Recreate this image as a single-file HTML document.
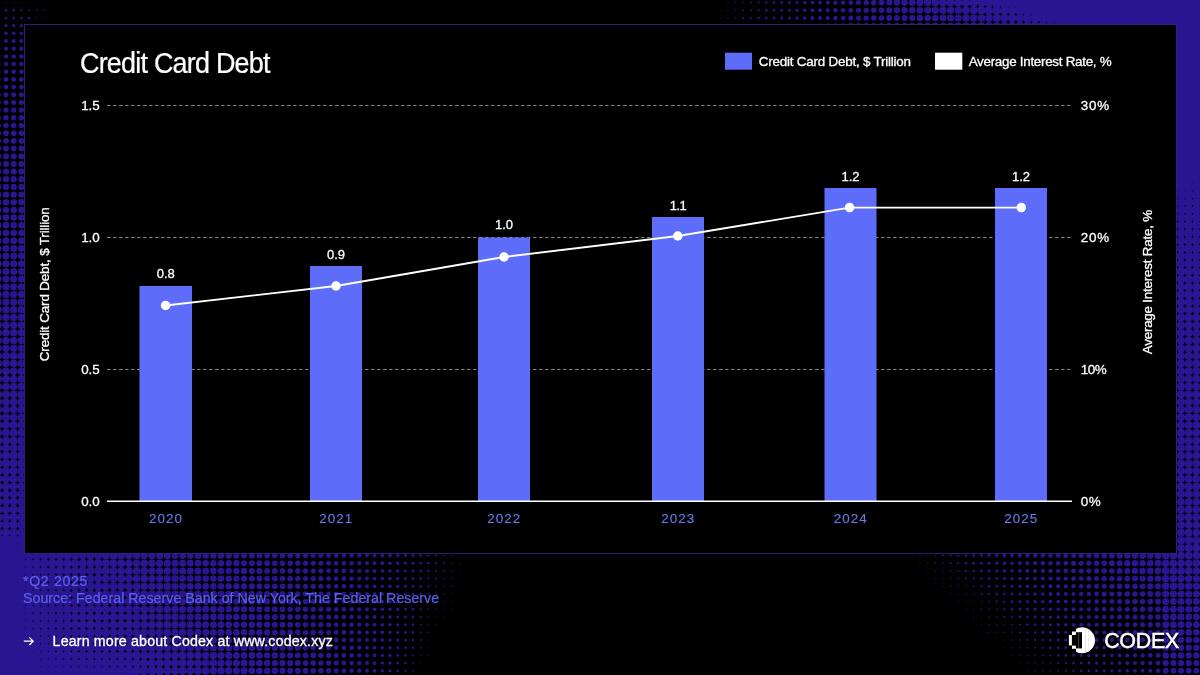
<!DOCTYPE html>
<html lang="en"><head><meta charset="utf-8"><title>Credit Card Debt</title>
<style>
html,body{margin:0;padding:0;background:#000;}
body{width:1200px;height:675px;position:relative;overflow:hidden;font-family:"Liberation Sans",sans-serif;color:#fff;}
svg.bg{filter:blur(0.7px);}
svg{position:absolute;left:0;top:0;font-family:"Liberation Sans",sans-serif;}
svg text{stroke-linejoin:round;white-space:pre;}
.panel{position:absolute;left:23.5px;top:23.5px;width:1151px;height:528.5px;background:#000;border:1px solid #2b2278;}
</style></head><body>
<svg class="bg" width="1200" height="675" viewBox="0 0 1200 675"><g fill="#2a1692"><circle cx="727.9" cy="-5.1" r="0.4"/><circle cx="735.6" cy="-5.1" r="0.6"/><circle cx="743.3" cy="-5.1" r="0.8"/><circle cx="751.0" cy="-5.1" r="0.9"/><circle cx="758.6" cy="-5.1" r="1.0"/><circle cx="766.3" cy="-5.1" r="1.1"/><circle cx="774.0" cy="-5.1" r="1.2"/><circle cx="781.7" cy="-5.1" r="1.3"/><circle cx="789.4" cy="-5.1" r="1.4"/><circle cx="797.0" cy="-5.1" r="1.5"/><circle cx="804.7" cy="-5.1" r="1.6"/><circle cx="812.4" cy="-5.1" r="1.7"/><circle cx="820.1" cy="-5.1" r="1.9"/><circle cx="827.8" cy="-5.1" r="2.0"/><circle cx="835.4" cy="-5.1" r="2.1"/><circle cx="843.1" cy="-5.1" r="2.2"/><circle cx="850.8" cy="-5.1" r="2.3"/><circle cx="858.5" cy="-5.1" r="2.5"/><circle cx="866.2" cy="-5.1" r="2.7"/><circle cx="873.8" cy="-5.1" r="2.8"/><circle cx="881.5" cy="-5.1" r="3.0"/><circle cx="889.2" cy="-5.1" r="3.1"/><circle cx="896.9" cy="-5.1" r="3.3"/><circle cx="904.6" cy="-5.1" r="3.4"/><circle cx="912.2" cy="-5.1" r="3.6"/><circle cx="919.9" cy="-5.1" r="3.7"/><circle cx="927.6" cy="-5.1" r="3.8"/><circle cx="935.3" cy="-5.1" r="4.0"/><circle cx="943.0" cy="-5.1" r="4.2"/><circle cx="950.6" cy="-5.1" r="4.4"/><circle cx="958.3" cy="-5.1" r="4.6"/><circle cx="966.0" cy="-5.1" r="4.7"/><circle cx="973.7" cy="-5.1" r="5.0"/><circle cx="981.4" cy="-5.1" r="5.5"/><circle cx="989.0" cy="-5.1" r="5.5"/><circle cx="996.7" cy="-5.1" r="5.5"/><circle cx="1004.4" cy="-5.1" r="5.5"/><circle cx="1012.1" cy="-5.1" r="5.5"/><circle cx="1019.8" cy="-5.1" r="5.5"/><circle cx="1027.4" cy="-5.1" r="5.5"/><circle cx="1035.1" cy="-5.1" r="5.5"/><circle cx="1042.8" cy="-5.1" r="5.5"/><circle cx="1050.5" cy="-5.1" r="5.5"/><circle cx="1058.2" cy="-5.1" r="5.5"/><circle cx="1065.8" cy="-5.1" r="5.5"/><circle cx="1073.5" cy="-5.1" r="5.5"/><circle cx="1081.2" cy="-5.1" r="5.5"/><circle cx="1088.9" cy="-5.1" r="5.5"/><circle cx="1096.6" cy="-5.1" r="5.5"/><circle cx="1104.2" cy="-5.1" r="5.5"/><circle cx="1111.9" cy="-5.1" r="5.5"/><circle cx="1119.6" cy="-5.1" r="5.5"/><circle cx="1127.3" cy="-5.1" r="5.5"/><circle cx="1135.0" cy="-5.1" r="5.5"/><circle cx="1142.6" cy="-5.1" r="5.5"/><circle cx="1150.3" cy="-5.1" r="5.5"/><circle cx="1158.0" cy="-5.1" r="5.5"/><circle cx="1165.7" cy="-5.1" r="5.5"/><circle cx="1173.4" cy="-5.1" r="5.5"/><circle cx="1181.0" cy="-5.1" r="5.5"/><circle cx="1188.7" cy="-5.1" r="5.5"/><circle cx="1196.4" cy="-5.1" r="5.5"/><circle cx="1204.1" cy="-5.1" r="5.5"/><circle cx="1211.8" cy="-5.1" r="5.5"/><circle cx="-1.7" cy="2.6" r="0.7"/><circle cx="6.0" cy="2.6" r="0.7"/><circle cx="13.7" cy="2.6" r="0.6"/><circle cx="21.4" cy="2.6" r="0.5"/><circle cx="29.0" cy="2.6" r="0.5"/><circle cx="727.9" cy="2.6" r="0.5"/><circle cx="735.6" cy="2.6" r="0.7"/><circle cx="743.3" cy="2.6" r="0.8"/><circle cx="751.0" cy="2.6" r="1.0"/><circle cx="758.6" cy="2.6" r="1.1"/><circle cx="766.3" cy="2.6" r="1.2"/><circle cx="774.0" cy="2.6" r="1.3"/><circle cx="781.7" cy="2.6" r="1.4"/><circle cx="789.4" cy="2.6" r="1.4"/><circle cx="797.0" cy="2.6" r="1.5"/><circle cx="804.7" cy="2.6" r="1.7"/><circle cx="812.4" cy="2.6" r="1.8"/><circle cx="820.1" cy="2.6" r="1.9"/><circle cx="827.8" cy="2.6" r="2.0"/><circle cx="835.4" cy="2.6" r="2.1"/><circle cx="843.1" cy="2.6" r="2.2"/><circle cx="850.8" cy="2.6" r="2.4"/><circle cx="858.5" cy="2.6" r="2.5"/><circle cx="866.2" cy="2.6" r="2.6"/><circle cx="873.8" cy="2.6" r="2.8"/><circle cx="881.5" cy="2.6" r="2.9"/><circle cx="889.2" cy="2.6" r="3.0"/><circle cx="896.9" cy="2.6" r="3.2"/><circle cx="904.6" cy="2.6" r="3.3"/><circle cx="912.2" cy="2.6" r="3.4"/><circle cx="919.9" cy="2.6" r="3.6"/><circle cx="927.6" cy="2.6" r="3.7"/><circle cx="935.3" cy="2.6" r="3.8"/><circle cx="943.0" cy="2.6" r="3.9"/><circle cx="950.6" cy="2.6" r="4.0"/><circle cx="958.3" cy="2.6" r="4.1"/><circle cx="966.0" cy="2.6" r="4.3"/><circle cx="973.7" cy="2.6" r="4.4"/><circle cx="981.4" cy="2.6" r="4.6"/><circle cx="989.0" cy="2.6" r="4.7"/><circle cx="996.7" cy="2.6" r="5.0"/><circle cx="1004.4" cy="2.6" r="5.5"/><circle cx="1012.1" cy="2.6" r="5.5"/><circle cx="1019.8" cy="2.6" r="5.5"/><circle cx="1027.4" cy="2.6" r="5.5"/><circle cx="1035.1" cy="2.6" r="5.5"/><circle cx="1042.8" cy="2.6" r="5.5"/><circle cx="1050.5" cy="2.6" r="5.5"/><circle cx="1058.2" cy="2.6" r="5.5"/><circle cx="1065.8" cy="2.6" r="5.5"/><circle cx="1073.5" cy="2.6" r="5.5"/><circle cx="1081.2" cy="2.6" r="5.5"/><circle cx="1088.9" cy="2.6" r="5.5"/><circle cx="1096.6" cy="2.6" r="5.5"/><circle cx="1104.2" cy="2.6" r="5.5"/><circle cx="1111.9" cy="2.6" r="5.5"/><circle cx="1119.6" cy="2.6" r="5.5"/><circle cx="1127.3" cy="2.6" r="5.5"/><circle cx="1135.0" cy="2.6" r="5.5"/><circle cx="1142.6" cy="2.6" r="5.5"/><circle cx="1150.3" cy="2.6" r="5.5"/><circle cx="1158.0" cy="2.6" r="5.5"/><circle cx="1165.7" cy="2.6" r="5.5"/><circle cx="1173.4" cy="2.6" r="5.5"/><circle cx="1181.0" cy="2.6" r="5.5"/><circle cx="1188.7" cy="2.6" r="5.5"/><circle cx="1196.4" cy="2.6" r="5.5"/><circle cx="1204.1" cy="2.6" r="5.5"/><circle cx="1211.8" cy="2.6" r="5.5"/><circle cx="-1.7" cy="10.3" r="1.4"/><circle cx="6.0" cy="10.3" r="1.3"/><circle cx="13.7" cy="10.3" r="1.2"/><circle cx="21.4" cy="10.3" r="1.1"/><circle cx="29.0" cy="10.3" r="0.9"/><circle cx="36.7" cy="10.3" r="0.8"/><circle cx="44.4" cy="10.3" r="0.6"/><circle cx="720.2" cy="10.3" r="0.4"/><circle cx="727.9" cy="10.3" r="0.6"/><circle cx="735.6" cy="10.3" r="0.8"/><circle cx="743.3" cy="10.3" r="0.9"/><circle cx="751.0" cy="10.3" r="1.0"/><circle cx="758.6" cy="10.3" r="1.1"/><circle cx="766.3" cy="10.3" r="1.2"/><circle cx="774.0" cy="10.3" r="1.3"/><circle cx="781.7" cy="10.3" r="1.4"/><circle cx="789.4" cy="10.3" r="1.5"/><circle cx="797.0" cy="10.3" r="1.6"/><circle cx="804.7" cy="10.3" r="1.7"/><circle cx="812.4" cy="10.3" r="1.9"/><circle cx="820.1" cy="10.3" r="2.0"/><circle cx="827.8" cy="10.3" r="2.1"/><circle cx="835.4" cy="10.3" r="2.2"/><circle cx="843.1" cy="10.3" r="2.3"/><circle cx="850.8" cy="10.3" r="2.4"/><circle cx="858.5" cy="10.3" r="2.5"/><circle cx="866.2" cy="10.3" r="2.6"/><circle cx="873.8" cy="10.3" r="2.7"/><circle cx="881.5" cy="10.3" r="2.9"/><circle cx="889.2" cy="10.3" r="3.0"/><circle cx="896.9" cy="10.3" r="3.1"/><circle cx="904.6" cy="10.3" r="3.2"/><circle cx="912.2" cy="10.3" r="3.3"/><circle cx="919.9" cy="10.3" r="3.4"/><circle cx="927.6" cy="10.3" r="3.5"/><circle cx="935.3" cy="10.3" r="3.6"/><circle cx="943.0" cy="10.3" r="3.7"/><circle cx="950.6" cy="10.3" r="3.7"/><circle cx="958.3" cy="10.3" r="3.8"/><circle cx="966.0" cy="10.3" r="3.9"/><circle cx="973.7" cy="10.3" r="4.0"/><circle cx="981.4" cy="10.3" r="4.1"/><circle cx="989.0" cy="10.3" r="4.3"/><circle cx="996.7" cy="10.3" r="4.4"/><circle cx="1004.4" cy="10.3" r="4.6"/><circle cx="1012.1" cy="10.3" r="4.7"/><circle cx="1019.8" cy="10.3" r="5.0"/><circle cx="1027.4" cy="10.3" r="5.5"/><circle cx="1035.1" cy="10.3" r="5.5"/><circle cx="1042.8" cy="10.3" r="5.5"/><circle cx="1050.5" cy="10.3" r="5.5"/><circle cx="1058.2" cy="10.3" r="5.5"/><circle cx="1065.8" cy="10.3" r="5.5"/><circle cx="1073.5" cy="10.3" r="5.5"/><circle cx="1081.2" cy="10.3" r="5.5"/><circle cx="1088.9" cy="10.3" r="5.5"/><circle cx="1096.6" cy="10.3" r="5.5"/><circle cx="1104.2" cy="10.3" r="5.5"/><circle cx="1111.9" cy="10.3" r="5.5"/><circle cx="1119.6" cy="10.3" r="5.5"/><circle cx="1127.3" cy="10.3" r="5.5"/><circle cx="1135.0" cy="10.3" r="5.5"/><circle cx="1142.6" cy="10.3" r="5.5"/><circle cx="1150.3" cy="10.3" r="5.5"/><circle cx="1158.0" cy="10.3" r="5.5"/><circle cx="1165.7" cy="10.3" r="5.5"/><circle cx="1173.4" cy="10.3" r="5.5"/><circle cx="1181.0" cy="10.3" r="5.5"/><circle cx="1188.7" cy="10.3" r="5.5"/><circle cx="1196.4" cy="10.3" r="5.5"/><circle cx="1204.1" cy="10.3" r="5.5"/><circle cx="1211.8" cy="10.3" r="5.5"/><circle cx="-1.7" cy="18.0" r="1.4"/><circle cx="6.0" cy="18.0" r="1.3"/><circle cx="13.7" cy="18.0" r="1.3"/><circle cx="21.4" cy="18.0" r="1.3"/><circle cx="29.0" cy="18.0" r="1.3"/><circle cx="36.7" cy="18.0" r="0.8"/><circle cx="44.4" cy="18.0" r="0.6"/><circle cx="720.2" cy="18.0" r="0.5"/><circle cx="727.9" cy="18.0" r="0.7"/><circle cx="735.6" cy="18.0" r="0.8"/><circle cx="743.3" cy="18.0" r="1.0"/><circle cx="751.0" cy="18.0" r="1.1"/><circle cx="758.6" cy="18.0" r="1.2"/><circle cx="766.3" cy="18.0" r="1.3"/><circle cx="774.0" cy="18.0" r="1.4"/><circle cx="781.7" cy="18.0" r="1.4"/><circle cx="789.4" cy="18.0" r="1.5"/><circle cx="797.0" cy="18.0" r="1.7"/><circle cx="804.7" cy="18.0" r="1.8"/><circle cx="812.4" cy="18.0" r="1.9"/><circle cx="820.1" cy="18.0" r="2.0"/><circle cx="827.8" cy="18.0" r="2.1"/><circle cx="835.4" cy="18.0" r="2.2"/><circle cx="843.1" cy="18.0" r="2.3"/><circle cx="850.8" cy="18.0" r="2.5"/><circle cx="858.5" cy="18.0" r="2.5"/><circle cx="866.2" cy="18.0" r="2.6"/><circle cx="873.8" cy="18.0" r="2.7"/><circle cx="881.5" cy="18.0" r="2.8"/><circle cx="889.2" cy="18.0" r="2.9"/><circle cx="896.9" cy="18.0" r="2.9"/><circle cx="904.6" cy="18.0" r="3.0"/><circle cx="912.2" cy="18.0" r="3.1"/><circle cx="919.9" cy="18.0" r="3.2"/><circle cx="927.6" cy="18.0" r="3.3"/><circle cx="935.3" cy="18.0" r="3.3"/><circle cx="943.0" cy="18.0" r="3.4"/><circle cx="950.6" cy="18.0" r="3.5"/><circle cx="958.3" cy="18.0" r="3.6"/><circle cx="966.0" cy="18.0" r="3.7"/><circle cx="973.7" cy="18.0" r="3.7"/><circle cx="981.4" cy="18.0" r="3.8"/><circle cx="989.0" cy="18.0" r="3.9"/><circle cx="996.7" cy="18.0" r="4.0"/><circle cx="1004.4" cy="18.0" r="4.1"/><circle cx="1012.1" cy="18.0" r="4.3"/><circle cx="1019.8" cy="18.0" r="4.4"/><circle cx="1027.4" cy="18.0" r="4.6"/><circle cx="1035.1" cy="18.0" r="4.7"/><circle cx="1042.8" cy="18.0" r="5.0"/><circle cx="1050.5" cy="18.0" r="5.5"/><circle cx="1058.2" cy="18.0" r="5.5"/><circle cx="1065.8" cy="18.0" r="5.5"/><circle cx="1073.5" cy="18.0" r="5.5"/><circle cx="1081.2" cy="18.0" r="5.5"/><circle cx="1088.9" cy="18.0" r="5.5"/><circle cx="1096.6" cy="18.0" r="5.5"/><circle cx="1104.2" cy="18.0" r="5.5"/><circle cx="1111.9" cy="18.0" r="5.5"/><circle cx="1119.6" cy="18.0" r="5.5"/><circle cx="1127.3" cy="18.0" r="5.5"/><circle cx="1135.0" cy="18.0" r="5.5"/><circle cx="1142.6" cy="18.0" r="5.5"/><circle cx="1150.3" cy="18.0" r="5.5"/><circle cx="1158.0" cy="18.0" r="5.5"/><circle cx="1165.7" cy="18.0" r="5.5"/><circle cx="1173.4" cy="18.0" r="5.5"/><circle cx="1181.0" cy="18.0" r="5.5"/><circle cx="1188.7" cy="18.0" r="5.5"/><circle cx="1196.4" cy="18.0" r="5.5"/><circle cx="1204.1" cy="18.0" r="5.5"/><circle cx="1211.8" cy="18.0" r="5.5"/><circle cx="-1.7" cy="25.6" r="1.6"/><circle cx="6.0" cy="25.6" r="1.6"/><circle cx="13.7" cy="25.6" r="1.6"/><circle cx="21.4" cy="25.6" r="1.6"/><circle cx="29.0" cy="25.6" r="1.6"/><circle cx="712.6" cy="25.6" r="0.4"/><circle cx="720.2" cy="25.6" r="0.6"/><circle cx="727.9" cy="25.6" r="0.8"/><circle cx="735.6" cy="25.6" r="0.9"/><circle cx="743.3" cy="25.6" r="1.0"/><circle cx="751.0" cy="25.6" r="1.1"/><circle cx="758.6" cy="25.6" r="1.2"/><circle cx="766.3" cy="25.6" r="1.3"/><circle cx="774.0" cy="25.6" r="1.4"/><circle cx="781.7" cy="25.6" r="1.5"/><circle cx="789.4" cy="25.6" r="1.6"/><circle cx="797.0" cy="25.6" r="1.7"/><circle cx="804.7" cy="25.6" r="1.9"/><circle cx="812.4" cy="25.6" r="2.0"/><circle cx="820.1" cy="25.6" r="2.1"/><circle cx="827.8" cy="25.6" r="2.2"/><circle cx="835.4" cy="25.6" r="2.3"/><circle cx="843.1" cy="25.6" r="2.4"/><circle cx="850.8" cy="25.6" r="2.5"/><circle cx="858.5" cy="25.6" r="2.6"/><circle cx="866.2" cy="25.6" r="2.6"/><circle cx="873.8" cy="25.6" r="2.7"/><circle cx="881.5" cy="25.6" r="2.7"/><circle cx="889.2" cy="25.6" r="2.8"/><circle cx="896.9" cy="25.6" r="2.8"/><circle cx="904.6" cy="25.6" r="2.9"/><circle cx="912.2" cy="25.6" r="2.9"/><circle cx="919.9" cy="25.6" r="3.0"/><circle cx="927.6" cy="25.6" r="3.0"/><circle cx="935.3" cy="25.6" r="3.1"/><circle cx="943.0" cy="25.6" r="3.1"/><circle cx="950.6" cy="25.6" r="3.2"/><circle cx="958.3" cy="25.6" r="3.3"/><circle cx="966.0" cy="25.6" r="3.4"/><circle cx="973.7" cy="25.6" r="3.5"/><circle cx="981.4" cy="25.6" r="3.6"/><circle cx="989.0" cy="25.6" r="3.7"/><circle cx="996.7" cy="25.6" r="3.7"/><circle cx="1004.4" cy="25.6" r="3.8"/><circle cx="1012.1" cy="25.6" r="3.9"/><circle cx="1019.8" cy="25.6" r="4.0"/><circle cx="1027.4" cy="25.6" r="4.1"/><circle cx="1035.1" cy="25.6" r="4.3"/><circle cx="1042.8" cy="25.6" r="4.4"/><circle cx="1050.5" cy="25.6" r="4.6"/><circle cx="1058.2" cy="25.6" r="4.7"/><circle cx="1065.8" cy="25.6" r="5.0"/><circle cx="1073.5" cy="25.6" r="5.5"/><circle cx="1081.2" cy="25.6" r="5.5"/><circle cx="1088.9" cy="25.6" r="5.5"/><circle cx="1096.6" cy="25.6" r="5.5"/><circle cx="1104.2" cy="25.6" r="5.5"/><circle cx="1111.9" cy="25.6" r="5.5"/><circle cx="1119.6" cy="25.6" r="5.5"/><circle cx="1127.3" cy="25.6" r="5.5"/><circle cx="1135.0" cy="25.6" r="5.5"/><circle cx="1142.6" cy="25.6" r="5.5"/><circle cx="1150.3" cy="25.6" r="5.5"/><circle cx="1158.0" cy="25.6" r="5.5"/><circle cx="1165.7" cy="25.6" r="5.5"/><circle cx="1173.4" cy="25.6" r="5.5"/><circle cx="1181.0" cy="25.6" r="5.5"/><circle cx="1188.7" cy="25.6" r="5.5"/><circle cx="1196.4" cy="25.6" r="5.5"/><circle cx="1204.1" cy="25.6" r="5.5"/><circle cx="1211.8" cy="25.6" r="5.5"/><circle cx="-1.7" cy="33.3" r="1.8"/><circle cx="6.0" cy="33.3" r="1.8"/><circle cx="13.7" cy="33.3" r="1.8"/><circle cx="21.4" cy="33.3" r="1.8"/><circle cx="29.0" cy="33.3" r="1.8"/><circle cx="1173.4" cy="33.3" r="5.5"/><circle cx="1181.0" cy="33.3" r="5.5"/><circle cx="1188.7" cy="33.3" r="5.5"/><circle cx="1196.4" cy="33.3" r="5.5"/><circle cx="1204.1" cy="33.3" r="5.5"/><circle cx="1211.8" cy="33.3" r="5.5"/><circle cx="-1.7" cy="41.0" r="2.0"/><circle cx="6.0" cy="41.0" r="2.0"/><circle cx="13.7" cy="41.0" r="2.0"/><circle cx="21.4" cy="41.0" r="2.0"/><circle cx="29.0" cy="41.0" r="2.0"/><circle cx="1173.4" cy="41.0" r="5.5"/><circle cx="1181.0" cy="41.0" r="5.5"/><circle cx="1188.7" cy="41.0" r="5.5"/><circle cx="1196.4" cy="41.0" r="5.5"/><circle cx="1204.1" cy="41.0" r="5.5"/><circle cx="1211.8" cy="41.0" r="5.5"/><circle cx="-1.7" cy="48.7" r="2.1"/><circle cx="6.0" cy="48.7" r="2.1"/><circle cx="13.7" cy="48.7" r="2.1"/><circle cx="21.4" cy="48.7" r="2.1"/><circle cx="29.0" cy="48.7" r="2.1"/><circle cx="1173.4" cy="48.7" r="5.5"/><circle cx="1181.0" cy="48.7" r="5.5"/><circle cx="1188.7" cy="48.7" r="5.5"/><circle cx="1196.4" cy="48.7" r="5.5"/><circle cx="1204.1" cy="48.7" r="5.5"/><circle cx="1211.8" cy="48.7" r="5.5"/><circle cx="-1.7" cy="56.4" r="2.2"/><circle cx="6.0" cy="56.4" r="2.2"/><circle cx="13.7" cy="56.4" r="2.2"/><circle cx="21.4" cy="56.4" r="2.2"/><circle cx="29.0" cy="56.4" r="2.2"/><circle cx="1173.4" cy="56.4" r="5.5"/><circle cx="1181.0" cy="56.4" r="5.5"/><circle cx="1188.7" cy="56.4" r="5.5"/><circle cx="1196.4" cy="56.4" r="5.5"/><circle cx="1204.1" cy="56.4" r="5.5"/><circle cx="1211.8" cy="56.4" r="5.5"/><circle cx="-1.7" cy="64.0" r="2.2"/><circle cx="6.0" cy="64.0" r="2.2"/><circle cx="13.7" cy="64.0" r="2.2"/><circle cx="21.4" cy="64.0" r="2.2"/><circle cx="29.0" cy="64.0" r="2.2"/><circle cx="1173.4" cy="64.0" r="5.5"/><circle cx="1181.0" cy="64.0" r="5.5"/><circle cx="1188.7" cy="64.0" r="5.5"/><circle cx="1196.4" cy="64.0" r="5.5"/><circle cx="1204.1" cy="64.0" r="5.5"/><circle cx="1211.8" cy="64.0" r="5.5"/><circle cx="-1.7" cy="71.7" r="2.3"/><circle cx="6.0" cy="71.7" r="2.3"/><circle cx="13.7" cy="71.7" r="2.3"/><circle cx="21.4" cy="71.7" r="2.3"/><circle cx="29.0" cy="71.7" r="2.3"/><circle cx="1173.4" cy="71.7" r="5.5"/><circle cx="1181.0" cy="71.7" r="5.5"/><circle cx="1188.7" cy="71.7" r="5.5"/><circle cx="1196.4" cy="71.7" r="5.5"/><circle cx="1204.1" cy="71.7" r="5.5"/><circle cx="1211.8" cy="71.7" r="5.5"/><circle cx="-1.7" cy="79.4" r="2.4"/><circle cx="6.0" cy="79.4" r="2.4"/><circle cx="13.7" cy="79.4" r="2.4"/><circle cx="21.4" cy="79.4" r="2.4"/><circle cx="29.0" cy="79.4" r="2.4"/><circle cx="1173.4" cy="79.4" r="5.5"/><circle cx="1181.0" cy="79.4" r="5.5"/><circle cx="1188.7" cy="79.4" r="5.5"/><circle cx="1196.4" cy="79.4" r="5.5"/><circle cx="1204.1" cy="79.4" r="5.5"/><circle cx="1211.8" cy="79.4" r="5.5"/><circle cx="-1.7" cy="87.1" r="2.4"/><circle cx="6.0" cy="87.1" r="2.4"/><circle cx="13.7" cy="87.1" r="2.4"/><circle cx="21.4" cy="87.1" r="2.4"/><circle cx="29.0" cy="87.1" r="2.4"/><circle cx="1173.4" cy="87.1" r="5.5"/><circle cx="1181.0" cy="87.1" r="5.5"/><circle cx="1188.7" cy="87.1" r="5.5"/><circle cx="1196.4" cy="87.1" r="5.5"/><circle cx="1204.1" cy="87.1" r="5.5"/><circle cx="1211.8" cy="87.1" r="5.5"/><circle cx="-1.7" cy="94.8" r="2.5"/><circle cx="6.0" cy="94.8" r="2.5"/><circle cx="13.7" cy="94.8" r="2.5"/><circle cx="21.4" cy="94.8" r="2.5"/><circle cx="29.0" cy="94.8" r="2.5"/><circle cx="1173.4" cy="94.8" r="5.5"/><circle cx="1181.0" cy="94.8" r="5.5"/><circle cx="1188.7" cy="94.8" r="5.5"/><circle cx="1196.4" cy="94.8" r="5.5"/><circle cx="1204.1" cy="94.8" r="5.5"/><circle cx="1211.8" cy="94.8" r="5.5"/><circle cx="-1.7" cy="102.4" r="2.5"/><circle cx="6.0" cy="102.4" r="2.5"/><circle cx="13.7" cy="102.4" r="2.5"/><circle cx="21.4" cy="102.4" r="2.5"/><circle cx="29.0" cy="102.4" r="2.5"/><circle cx="1173.4" cy="102.4" r="5.5"/><circle cx="1181.0" cy="102.4" r="5.5"/><circle cx="1188.7" cy="102.4" r="5.5"/><circle cx="1196.4" cy="102.4" r="5.5"/><circle cx="1204.1" cy="102.4" r="5.5"/><circle cx="1211.8" cy="102.4" r="5.5"/><circle cx="-1.7" cy="110.1" r="2.6"/><circle cx="6.0" cy="110.1" r="2.6"/><circle cx="13.7" cy="110.1" r="2.6"/><circle cx="21.4" cy="110.1" r="2.6"/><circle cx="29.0" cy="110.1" r="2.6"/><circle cx="1173.4" cy="110.1" r="5.5"/><circle cx="1181.0" cy="110.1" r="5.5"/><circle cx="1188.7" cy="110.1" r="5.5"/><circle cx="1196.4" cy="110.1" r="5.5"/><circle cx="1204.1" cy="110.1" r="5.5"/><circle cx="1211.8" cy="110.1" r="5.5"/><circle cx="-1.7" cy="117.8" r="2.7"/><circle cx="6.0" cy="117.8" r="2.7"/><circle cx="13.7" cy="117.8" r="2.7"/><circle cx="21.4" cy="117.8" r="2.7"/><circle cx="29.0" cy="117.8" r="2.7"/><circle cx="1173.4" cy="117.8" r="5.5"/><circle cx="1181.0" cy="117.8" r="5.5"/><circle cx="1188.7" cy="117.8" r="5.5"/><circle cx="1196.4" cy="117.8" r="5.5"/><circle cx="1204.1" cy="117.8" r="5.5"/><circle cx="1211.8" cy="117.8" r="5.5"/><circle cx="-1.7" cy="125.5" r="2.7"/><circle cx="6.0" cy="125.5" r="2.7"/><circle cx="13.7" cy="125.5" r="2.7"/><circle cx="21.4" cy="125.5" r="2.7"/><circle cx="29.0" cy="125.5" r="2.7"/><circle cx="1173.4" cy="125.5" r="5.5"/><circle cx="1181.0" cy="125.5" r="5.5"/><circle cx="1188.7" cy="125.5" r="5.5"/><circle cx="1196.4" cy="125.5" r="5.5"/><circle cx="1204.1" cy="125.5" r="5.5"/><circle cx="1211.8" cy="125.5" r="5.5"/><circle cx="-1.7" cy="133.2" r="2.8"/><circle cx="6.0" cy="133.2" r="2.8"/><circle cx="13.7" cy="133.2" r="2.8"/><circle cx="21.4" cy="133.2" r="2.8"/><circle cx="29.0" cy="133.2" r="2.8"/><circle cx="1173.4" cy="133.2" r="5.5"/><circle cx="1181.0" cy="133.2" r="5.5"/><circle cx="1188.7" cy="133.2" r="5.5"/><circle cx="1196.4" cy="133.2" r="5.5"/><circle cx="1204.1" cy="133.2" r="5.5"/><circle cx="1211.8" cy="133.2" r="5.5"/><circle cx="-1.7" cy="140.8" r="2.9"/><circle cx="6.0" cy="140.8" r="2.9"/><circle cx="13.7" cy="140.8" r="2.9"/><circle cx="21.4" cy="140.8" r="2.9"/><circle cx="29.0" cy="140.8" r="2.9"/><circle cx="1173.4" cy="140.8" r="5.5"/><circle cx="1181.0" cy="140.8" r="5.5"/><circle cx="1188.7" cy="140.8" r="5.5"/><circle cx="1196.4" cy="140.8" r="5.5"/><circle cx="1204.1" cy="140.8" r="5.5"/><circle cx="1211.8" cy="140.8" r="5.5"/><circle cx="-1.7" cy="148.5" r="2.9"/><circle cx="6.0" cy="148.5" r="2.9"/><circle cx="13.7" cy="148.5" r="2.9"/><circle cx="21.4" cy="148.5" r="2.9"/><circle cx="29.0" cy="148.5" r="2.9"/><circle cx="1173.4" cy="148.5" r="5.5"/><circle cx="1181.0" cy="148.5" r="5.5"/><circle cx="1188.7" cy="148.5" r="5.5"/><circle cx="1196.4" cy="148.5" r="5.5"/><circle cx="1204.1" cy="148.5" r="5.5"/><circle cx="1211.8" cy="148.5" r="5.5"/><circle cx="-1.7" cy="156.2" r="3.0"/><circle cx="6.0" cy="156.2" r="3.0"/><circle cx="13.7" cy="156.2" r="3.0"/><circle cx="21.4" cy="156.2" r="3.0"/><circle cx="29.0" cy="156.2" r="3.0"/><circle cx="1173.4" cy="156.2" r="5.5"/><circle cx="1181.0" cy="156.2" r="5.5"/><circle cx="1188.7" cy="156.2" r="5.5"/><circle cx="1196.4" cy="156.2" r="5.5"/><circle cx="1204.1" cy="156.2" r="5.5"/><circle cx="1211.8" cy="156.2" r="5.5"/><circle cx="-1.7" cy="163.9" r="3.0"/><circle cx="6.0" cy="163.9" r="3.0"/><circle cx="13.7" cy="163.9" r="3.0"/><circle cx="21.4" cy="163.9" r="3.0"/><circle cx="29.0" cy="163.9" r="3.0"/><circle cx="1173.4" cy="163.9" r="5.5"/><circle cx="1181.0" cy="163.9" r="5.5"/><circle cx="1188.7" cy="163.9" r="5.5"/><circle cx="1196.4" cy="163.9" r="5.5"/><circle cx="1204.1" cy="163.9" r="5.5"/><circle cx="1211.8" cy="163.9" r="5.5"/><circle cx="-1.7" cy="171.6" r="3.1"/><circle cx="6.0" cy="171.6" r="3.1"/><circle cx="13.7" cy="171.6" r="3.1"/><circle cx="21.4" cy="171.6" r="3.1"/><circle cx="29.0" cy="171.6" r="3.1"/><circle cx="1173.4" cy="171.6" r="5.5"/><circle cx="1181.0" cy="171.6" r="5.5"/><circle cx="1188.7" cy="171.6" r="5.5"/><circle cx="1196.4" cy="171.6" r="5.5"/><circle cx="1204.1" cy="171.6" r="5.5"/><circle cx="1211.8" cy="171.6" r="5.5"/><circle cx="-1.7" cy="179.2" r="3.1"/><circle cx="6.0" cy="179.2" r="3.1"/><circle cx="13.7" cy="179.2" r="3.1"/><circle cx="21.4" cy="179.2" r="3.1"/><circle cx="29.0" cy="179.2" r="3.1"/><circle cx="1173.4" cy="179.2" r="5.5"/><circle cx="1181.0" cy="179.2" r="5.5"/><circle cx="1188.7" cy="179.2" r="5.5"/><circle cx="1196.4" cy="179.2" r="5.5"/><circle cx="1204.1" cy="179.2" r="5.5"/><circle cx="1211.8" cy="179.2" r="5.5"/><circle cx="-1.7" cy="186.9" r="3.1"/><circle cx="6.0" cy="186.9" r="3.1"/><circle cx="13.7" cy="186.9" r="3.1"/><circle cx="21.4" cy="186.9" r="3.1"/><circle cx="29.0" cy="186.9" r="3.1"/><circle cx="1173.4" cy="186.9" r="5.2"/><circle cx="1181.0" cy="186.9" r="5.2"/><circle cx="1188.7" cy="186.9" r="5.2"/><circle cx="1196.4" cy="186.9" r="5.2"/><circle cx="1204.1" cy="186.9" r="5.2"/><circle cx="1211.8" cy="186.9" r="5.2"/><circle cx="-1.7" cy="194.6" r="3.2"/><circle cx="6.0" cy="194.6" r="3.2"/><circle cx="13.7" cy="194.6" r="3.2"/><circle cx="21.4" cy="194.6" r="3.2"/><circle cx="29.0" cy="194.6" r="3.2"/><circle cx="1173.4" cy="194.6" r="5.0"/><circle cx="1181.0" cy="194.6" r="5.0"/><circle cx="1188.7" cy="194.6" r="5.0"/><circle cx="1196.4" cy="194.6" r="5.0"/><circle cx="1204.1" cy="194.6" r="5.0"/><circle cx="1211.8" cy="194.6" r="5.0"/><circle cx="-1.7" cy="202.3" r="3.2"/><circle cx="6.0" cy="202.3" r="3.2"/><circle cx="13.7" cy="202.3" r="3.2"/><circle cx="21.4" cy="202.3" r="3.2"/><circle cx="29.0" cy="202.3" r="3.2"/><circle cx="1173.4" cy="202.3" r="4.9"/><circle cx="1181.0" cy="202.3" r="4.9"/><circle cx="1188.7" cy="202.3" r="4.9"/><circle cx="1196.4" cy="202.3" r="4.9"/><circle cx="1204.1" cy="202.3" r="4.9"/><circle cx="1211.8" cy="202.3" r="4.9"/><circle cx="-1.7" cy="210.0" r="3.2"/><circle cx="6.0" cy="210.0" r="3.2"/><circle cx="13.7" cy="210.0" r="3.2"/><circle cx="21.4" cy="210.0" r="3.2"/><circle cx="29.0" cy="210.0" r="3.2"/><circle cx="1173.4" cy="210.0" r="4.9"/><circle cx="1181.0" cy="210.0" r="4.9"/><circle cx="1188.7" cy="210.0" r="4.9"/><circle cx="1196.4" cy="210.0" r="4.9"/><circle cx="1204.1" cy="210.0" r="4.9"/><circle cx="1211.8" cy="210.0" r="4.9"/><circle cx="-1.7" cy="217.6" r="3.3"/><circle cx="6.0" cy="217.6" r="3.3"/><circle cx="13.7" cy="217.6" r="3.3"/><circle cx="21.4" cy="217.6" r="3.3"/><circle cx="29.0" cy="217.6" r="3.3"/><circle cx="1173.4" cy="217.6" r="4.8"/><circle cx="1181.0" cy="217.6" r="4.8"/><circle cx="1188.7" cy="217.6" r="4.8"/><circle cx="1196.4" cy="217.6" r="4.8"/><circle cx="1204.1" cy="217.6" r="4.8"/><circle cx="1211.8" cy="217.6" r="4.8"/><circle cx="-1.7" cy="225.3" r="3.3"/><circle cx="6.0" cy="225.3" r="3.3"/><circle cx="13.7" cy="225.3" r="3.3"/><circle cx="21.4" cy="225.3" r="3.3"/><circle cx="29.0" cy="225.3" r="3.3"/><circle cx="1173.4" cy="225.3" r="4.7"/><circle cx="1181.0" cy="225.3" r="4.7"/><circle cx="1188.7" cy="225.3" r="4.7"/><circle cx="1196.4" cy="225.3" r="4.7"/><circle cx="1204.1" cy="225.3" r="4.7"/><circle cx="1211.8" cy="225.3" r="4.7"/><circle cx="-1.7" cy="233.0" r="3.3"/><circle cx="6.0" cy="233.0" r="3.3"/><circle cx="13.7" cy="233.0" r="3.3"/><circle cx="21.4" cy="233.0" r="3.3"/><circle cx="29.0" cy="233.0" r="3.3"/><circle cx="1173.4" cy="233.0" r="4.7"/><circle cx="1181.0" cy="233.0" r="4.7"/><circle cx="1188.7" cy="233.0" r="4.7"/><circle cx="1196.4" cy="233.0" r="4.7"/><circle cx="1204.1" cy="233.0" r="4.7"/><circle cx="1211.8" cy="233.0" r="4.7"/><circle cx="-1.7" cy="240.7" r="3.4"/><circle cx="6.0" cy="240.7" r="3.4"/><circle cx="13.7" cy="240.7" r="3.4"/><circle cx="21.4" cy="240.7" r="3.4"/><circle cx="29.0" cy="240.7" r="3.4"/><circle cx="1173.4" cy="240.7" r="4.6"/><circle cx="1181.0" cy="240.7" r="4.6"/><circle cx="1188.7" cy="240.7" r="4.6"/><circle cx="1196.4" cy="240.7" r="4.6"/><circle cx="1204.1" cy="240.7" r="4.6"/><circle cx="1211.8" cy="240.7" r="4.6"/><circle cx="-1.7" cy="248.4" r="3.4"/><circle cx="6.0" cy="248.4" r="3.4"/><circle cx="13.7" cy="248.4" r="3.4"/><circle cx="21.4" cy="248.4" r="3.4"/><circle cx="29.0" cy="248.4" r="3.4"/><circle cx="1173.4" cy="248.4" r="4.6"/><circle cx="1181.0" cy="248.4" r="4.6"/><circle cx="1188.7" cy="248.4" r="4.6"/><circle cx="1196.4" cy="248.4" r="4.6"/><circle cx="1204.1" cy="248.4" r="4.6"/><circle cx="1211.8" cy="248.4" r="4.6"/><circle cx="-1.7" cy="256.0" r="3.4"/><circle cx="6.0" cy="256.0" r="3.4"/><circle cx="13.7" cy="256.0" r="3.4"/><circle cx="21.4" cy="256.0" r="3.4"/><circle cx="29.0" cy="256.0" r="3.4"/><circle cx="1173.4" cy="256.0" r="4.5"/><circle cx="1181.0" cy="256.0" r="4.5"/><circle cx="1188.7" cy="256.0" r="4.5"/><circle cx="1196.4" cy="256.0" r="4.5"/><circle cx="1204.1" cy="256.0" r="4.5"/><circle cx="1211.8" cy="256.0" r="4.5"/><circle cx="-1.7" cy="263.7" r="3.5"/><circle cx="6.0" cy="263.7" r="3.5"/><circle cx="13.7" cy="263.7" r="3.5"/><circle cx="21.4" cy="263.7" r="3.5"/><circle cx="29.0" cy="263.7" r="3.5"/><circle cx="1173.4" cy="263.7" r="4.5"/><circle cx="1181.0" cy="263.7" r="4.5"/><circle cx="1188.7" cy="263.7" r="4.5"/><circle cx="1196.4" cy="263.7" r="4.5"/><circle cx="1204.1" cy="263.7" r="4.5"/><circle cx="1211.8" cy="263.7" r="4.5"/><circle cx="-1.7" cy="271.4" r="3.5"/><circle cx="6.0" cy="271.4" r="3.5"/><circle cx="13.7" cy="271.4" r="3.5"/><circle cx="21.4" cy="271.4" r="3.5"/><circle cx="29.0" cy="271.4" r="3.5"/><circle cx="1173.4" cy="271.4" r="4.5"/><circle cx="1181.0" cy="271.4" r="4.5"/><circle cx="1188.7" cy="271.4" r="4.5"/><circle cx="1196.4" cy="271.4" r="4.5"/><circle cx="1204.1" cy="271.4" r="4.5"/><circle cx="1211.8" cy="271.4" r="4.5"/><circle cx="-1.7" cy="279.1" r="3.5"/><circle cx="6.0" cy="279.1" r="3.5"/><circle cx="13.7" cy="279.1" r="3.5"/><circle cx="21.4" cy="279.1" r="3.5"/><circle cx="29.0" cy="279.1" r="3.5"/><circle cx="1173.4" cy="279.1" r="4.4"/><circle cx="1181.0" cy="279.1" r="4.4"/><circle cx="1188.7" cy="279.1" r="4.4"/><circle cx="1196.4" cy="279.1" r="4.4"/><circle cx="1204.1" cy="279.1" r="4.4"/><circle cx="1211.8" cy="279.1" r="4.4"/><circle cx="-1.7" cy="286.8" r="3.6"/><circle cx="6.0" cy="286.8" r="3.6"/><circle cx="13.7" cy="286.8" r="3.6"/><circle cx="21.4" cy="286.8" r="3.6"/><circle cx="29.0" cy="286.8" r="3.6"/><circle cx="1173.4" cy="286.8" r="4.4"/><circle cx="1181.0" cy="286.8" r="4.4"/><circle cx="1188.7" cy="286.8" r="4.4"/><circle cx="1196.4" cy="286.8" r="4.4"/><circle cx="1204.1" cy="286.8" r="4.4"/><circle cx="1211.8" cy="286.8" r="4.4"/><circle cx="-1.7" cy="294.4" r="3.6"/><circle cx="6.0" cy="294.4" r="3.6"/><circle cx="13.7" cy="294.4" r="3.6"/><circle cx="21.4" cy="294.4" r="3.6"/><circle cx="29.0" cy="294.4" r="3.6"/><circle cx="1173.4" cy="294.4" r="4.4"/><circle cx="1181.0" cy="294.4" r="4.4"/><circle cx="1188.7" cy="294.4" r="4.4"/><circle cx="1196.4" cy="294.4" r="4.4"/><circle cx="1204.1" cy="294.4" r="4.4"/><circle cx="1211.8" cy="294.4" r="4.4"/><circle cx="-1.7" cy="302.1" r="3.6"/><circle cx="6.0" cy="302.1" r="3.6"/><circle cx="13.7" cy="302.1" r="3.6"/><circle cx="21.4" cy="302.1" r="3.6"/><circle cx="29.0" cy="302.1" r="3.6"/><circle cx="1173.4" cy="302.1" r="4.3"/><circle cx="1181.0" cy="302.1" r="4.3"/><circle cx="1188.7" cy="302.1" r="4.3"/><circle cx="1196.4" cy="302.1" r="4.3"/><circle cx="1204.1" cy="302.1" r="4.3"/><circle cx="1211.8" cy="302.1" r="4.3"/><circle cx="-1.7" cy="309.8" r="3.7"/><circle cx="6.0" cy="309.8" r="3.7"/><circle cx="13.7" cy="309.8" r="3.7"/><circle cx="21.4" cy="309.8" r="3.7"/><circle cx="29.0" cy="309.8" r="3.7"/><circle cx="1173.4" cy="309.8" r="4.3"/><circle cx="1181.0" cy="309.8" r="4.3"/><circle cx="1188.7" cy="309.8" r="4.3"/><circle cx="1196.4" cy="309.8" r="4.3"/><circle cx="1204.1" cy="309.8" r="4.3"/><circle cx="1211.8" cy="309.8" r="4.3"/><circle cx="-1.7" cy="317.5" r="3.7"/><circle cx="6.0" cy="317.5" r="3.7"/><circle cx="13.7" cy="317.5" r="3.7"/><circle cx="21.4" cy="317.5" r="3.7"/><circle cx="29.0" cy="317.5" r="3.7"/><circle cx="1173.4" cy="317.5" r="4.3"/><circle cx="1181.0" cy="317.5" r="4.3"/><circle cx="1188.7" cy="317.5" r="4.3"/><circle cx="1196.4" cy="317.5" r="4.3"/><circle cx="1204.1" cy="317.5" r="4.3"/><circle cx="1211.8" cy="317.5" r="4.3"/><circle cx="-1.7" cy="325.2" r="3.7"/><circle cx="6.0" cy="325.2" r="3.7"/><circle cx="13.7" cy="325.2" r="3.7"/><circle cx="21.4" cy="325.2" r="3.7"/><circle cx="29.0" cy="325.2" r="3.7"/><circle cx="1173.4" cy="325.2" r="4.2"/><circle cx="1181.0" cy="325.2" r="4.2"/><circle cx="1188.7" cy="325.2" r="4.2"/><circle cx="1196.4" cy="325.2" r="4.2"/><circle cx="1204.1" cy="325.2" r="4.2"/><circle cx="1211.8" cy="325.2" r="4.2"/><circle cx="-1.7" cy="332.8" r="3.7"/><circle cx="6.0" cy="332.8" r="3.7"/><circle cx="13.7" cy="332.8" r="3.7"/><circle cx="21.4" cy="332.8" r="3.7"/><circle cx="29.0" cy="332.8" r="3.7"/><circle cx="1173.4" cy="332.8" r="4.2"/><circle cx="1181.0" cy="332.8" r="4.2"/><circle cx="1188.7" cy="332.8" r="4.2"/><circle cx="1196.4" cy="332.8" r="4.2"/><circle cx="1204.1" cy="332.8" r="4.2"/><circle cx="1211.8" cy="332.8" r="4.2"/><circle cx="-1.7" cy="340.5" r="3.7"/><circle cx="6.0" cy="340.5" r="3.7"/><circle cx="13.7" cy="340.5" r="3.7"/><circle cx="21.4" cy="340.5" r="3.7"/><circle cx="29.0" cy="340.5" r="3.7"/><circle cx="1173.4" cy="340.5" r="4.2"/><circle cx="1181.0" cy="340.5" r="4.2"/><circle cx="1188.7" cy="340.5" r="4.2"/><circle cx="1196.4" cy="340.5" r="4.2"/><circle cx="1204.1" cy="340.5" r="4.2"/><circle cx="1211.8" cy="340.5" r="4.2"/><circle cx="-1.7" cy="348.2" r="3.7"/><circle cx="6.0" cy="348.2" r="3.7"/><circle cx="13.7" cy="348.2" r="3.7"/><circle cx="21.4" cy="348.2" r="3.7"/><circle cx="29.0" cy="348.2" r="3.7"/><circle cx="1173.4" cy="348.2" r="4.2"/><circle cx="1181.0" cy="348.2" r="4.2"/><circle cx="1188.7" cy="348.2" r="4.2"/><circle cx="1196.4" cy="348.2" r="4.2"/><circle cx="1204.1" cy="348.2" r="4.2"/><circle cx="1211.8" cy="348.2" r="4.2"/><circle cx="-1.7" cy="355.9" r="3.8"/><circle cx="6.0" cy="355.9" r="3.8"/><circle cx="13.7" cy="355.9" r="3.8"/><circle cx="21.4" cy="355.9" r="3.8"/><circle cx="29.0" cy="355.9" r="3.8"/><circle cx="1173.4" cy="355.9" r="4.2"/><circle cx="1181.0" cy="355.9" r="4.2"/><circle cx="1188.7" cy="355.9" r="4.2"/><circle cx="1196.4" cy="355.9" r="4.2"/><circle cx="1204.1" cy="355.9" r="4.2"/><circle cx="1211.8" cy="355.9" r="4.2"/><circle cx="-1.7" cy="363.6" r="3.8"/><circle cx="6.0" cy="363.6" r="3.8"/><circle cx="13.7" cy="363.6" r="3.8"/><circle cx="21.4" cy="363.6" r="3.8"/><circle cx="29.0" cy="363.6" r="3.8"/><circle cx="1173.4" cy="363.6" r="4.1"/><circle cx="1181.0" cy="363.6" r="4.1"/><circle cx="1188.7" cy="363.6" r="4.1"/><circle cx="1196.4" cy="363.6" r="4.1"/><circle cx="1204.1" cy="363.6" r="4.1"/><circle cx="1211.8" cy="363.6" r="4.1"/><circle cx="-1.7" cy="371.2" r="3.8"/><circle cx="6.0" cy="371.2" r="3.8"/><circle cx="13.7" cy="371.2" r="3.8"/><circle cx="21.4" cy="371.2" r="3.8"/><circle cx="29.0" cy="371.2" r="3.8"/><circle cx="1173.4" cy="371.2" r="4.1"/><circle cx="1181.0" cy="371.2" r="4.1"/><circle cx="1188.7" cy="371.2" r="4.1"/><circle cx="1196.4" cy="371.2" r="4.1"/><circle cx="1204.1" cy="371.2" r="4.1"/><circle cx="1211.8" cy="371.2" r="4.1"/><circle cx="-1.7" cy="378.9" r="3.8"/><circle cx="6.0" cy="378.9" r="3.8"/><circle cx="13.7" cy="378.9" r="3.8"/><circle cx="21.4" cy="378.9" r="3.8"/><circle cx="29.0" cy="378.9" r="3.8"/><circle cx="1173.4" cy="378.9" r="4.1"/><circle cx="1181.0" cy="378.9" r="4.1"/><circle cx="1188.7" cy="378.9" r="4.1"/><circle cx="1196.4" cy="378.9" r="4.1"/><circle cx="1204.1" cy="378.9" r="4.1"/><circle cx="1211.8" cy="378.9" r="4.1"/><circle cx="-1.7" cy="386.6" r="3.8"/><circle cx="6.0" cy="386.6" r="3.8"/><circle cx="13.7" cy="386.6" r="3.8"/><circle cx="21.4" cy="386.6" r="3.8"/><circle cx="29.0" cy="386.6" r="3.8"/><circle cx="1173.4" cy="386.6" r="4.1"/><circle cx="1181.0" cy="386.6" r="4.1"/><circle cx="1188.7" cy="386.6" r="4.1"/><circle cx="1196.4" cy="386.6" r="4.1"/><circle cx="1204.1" cy="386.6" r="4.1"/><circle cx="1211.8" cy="386.6" r="4.1"/><circle cx="-1.7" cy="394.3" r="3.9"/><circle cx="6.0" cy="394.3" r="3.9"/><circle cx="13.7" cy="394.3" r="3.9"/><circle cx="21.4" cy="394.3" r="3.9"/><circle cx="29.0" cy="394.3" r="3.9"/><circle cx="1173.4" cy="394.3" r="4.1"/><circle cx="1181.0" cy="394.3" r="4.1"/><circle cx="1188.7" cy="394.3" r="4.1"/><circle cx="1196.4" cy="394.3" r="4.1"/><circle cx="1204.1" cy="394.3" r="4.1"/><circle cx="1211.8" cy="394.3" r="4.1"/><circle cx="-1.7" cy="402.0" r="3.9"/><circle cx="6.0" cy="402.0" r="3.9"/><circle cx="13.7" cy="402.0" r="3.9"/><circle cx="21.4" cy="402.0" r="3.9"/><circle cx="29.0" cy="402.0" r="3.9"/><circle cx="1173.4" cy="402.0" r="4.1"/><circle cx="1181.0" cy="402.0" r="4.1"/><circle cx="1188.7" cy="402.0" r="4.1"/><circle cx="1196.4" cy="402.0" r="4.1"/><circle cx="1204.1" cy="402.0" r="4.1"/><circle cx="1211.8" cy="402.0" r="4.1"/><circle cx="-1.7" cy="409.6" r="3.9"/><circle cx="6.0" cy="409.6" r="3.9"/><circle cx="13.7" cy="409.6" r="3.9"/><circle cx="21.4" cy="409.6" r="3.9"/><circle cx="29.0" cy="409.6" r="3.9"/><circle cx="1173.4" cy="409.6" r="4.1"/><circle cx="1181.0" cy="409.6" r="4.1"/><circle cx="1188.7" cy="409.6" r="4.1"/><circle cx="1196.4" cy="409.6" r="4.1"/><circle cx="1204.1" cy="409.6" r="4.1"/><circle cx="1211.8" cy="409.6" r="4.1"/><circle cx="-1.7" cy="417.3" r="3.9"/><circle cx="6.0" cy="417.3" r="3.9"/><circle cx="13.7" cy="417.3" r="3.9"/><circle cx="21.4" cy="417.3" r="3.9"/><circle cx="29.0" cy="417.3" r="3.9"/><circle cx="1173.4" cy="417.3" r="4.1"/><circle cx="1181.0" cy="417.3" r="4.1"/><circle cx="1188.7" cy="417.3" r="4.1"/><circle cx="1196.4" cy="417.3" r="4.1"/><circle cx="1204.1" cy="417.3" r="4.1"/><circle cx="1211.8" cy="417.3" r="4.1"/><circle cx="-1.7" cy="425.0" r="4.0"/><circle cx="6.0" cy="425.0" r="4.0"/><circle cx="13.7" cy="425.0" r="4.0"/><circle cx="21.4" cy="425.0" r="4.0"/><circle cx="29.0" cy="425.0" r="4.0"/><circle cx="1173.4" cy="425.0" r="4.0"/><circle cx="1181.0" cy="425.0" r="4.0"/><circle cx="1188.7" cy="425.0" r="4.0"/><circle cx="1196.4" cy="425.0" r="4.0"/><circle cx="1204.1" cy="425.0" r="4.0"/><circle cx="1211.8" cy="425.0" r="4.0"/><circle cx="-1.7" cy="432.7" r="4.0"/><circle cx="6.0" cy="432.7" r="4.0"/><circle cx="13.7" cy="432.7" r="4.0"/><circle cx="21.4" cy="432.7" r="4.0"/><circle cx="29.0" cy="432.7" r="4.0"/><circle cx="1173.4" cy="432.7" r="4.0"/><circle cx="1181.0" cy="432.7" r="4.0"/><circle cx="1188.7" cy="432.7" r="4.0"/><circle cx="1196.4" cy="432.7" r="4.0"/><circle cx="1204.1" cy="432.7" r="4.0"/><circle cx="1211.8" cy="432.7" r="4.0"/><circle cx="-1.7" cy="440.4" r="4.0"/><circle cx="6.0" cy="440.4" r="4.0"/><circle cx="13.7" cy="440.4" r="4.0"/><circle cx="21.4" cy="440.4" r="4.0"/><circle cx="29.0" cy="440.4" r="4.0"/><circle cx="1173.4" cy="440.4" r="4.0"/><circle cx="1181.0" cy="440.4" r="4.0"/><circle cx="1188.7" cy="440.4" r="4.0"/><circle cx="1196.4" cy="440.4" r="4.0"/><circle cx="1204.1" cy="440.4" r="4.0"/><circle cx="1211.8" cy="440.4" r="4.0"/><circle cx="-1.7" cy="448.0" r="4.0"/><circle cx="6.0" cy="448.0" r="4.0"/><circle cx="13.7" cy="448.0" r="4.0"/><circle cx="21.4" cy="448.0" r="4.0"/><circle cx="29.0" cy="448.0" r="4.0"/><circle cx="1173.4" cy="448.0" r="4.0"/><circle cx="1181.0" cy="448.0" r="4.0"/><circle cx="1188.7" cy="448.0" r="4.0"/><circle cx="1196.4" cy="448.0" r="4.0"/><circle cx="1204.1" cy="448.0" r="4.0"/><circle cx="1211.8" cy="448.0" r="4.0"/><circle cx="-1.7" cy="455.7" r="4.1"/><circle cx="6.0" cy="455.7" r="4.1"/><circle cx="13.7" cy="455.7" r="4.1"/><circle cx="21.4" cy="455.7" r="4.1"/><circle cx="29.0" cy="455.7" r="4.1"/><circle cx="1173.4" cy="455.7" r="4.0"/><circle cx="1181.0" cy="455.7" r="4.0"/><circle cx="1188.7" cy="455.7" r="4.0"/><circle cx="1196.4" cy="455.7" r="4.0"/><circle cx="1204.1" cy="455.7" r="4.0"/><circle cx="1211.8" cy="455.7" r="4.0"/><circle cx="-1.7" cy="463.4" r="4.1"/><circle cx="6.0" cy="463.4" r="4.1"/><circle cx="13.7" cy="463.4" r="4.1"/><circle cx="21.4" cy="463.4" r="4.1"/><circle cx="29.0" cy="463.4" r="4.1"/><circle cx="1173.4" cy="463.4" r="4.0"/><circle cx="1181.0" cy="463.4" r="4.0"/><circle cx="1188.7" cy="463.4" r="4.0"/><circle cx="1196.4" cy="463.4" r="4.0"/><circle cx="1204.1" cy="463.4" r="4.0"/><circle cx="1211.8" cy="463.4" r="4.0"/><circle cx="-1.7" cy="471.1" r="4.1"/><circle cx="6.0" cy="471.1" r="4.1"/><circle cx="13.7" cy="471.1" r="4.1"/><circle cx="21.4" cy="471.1" r="4.1"/><circle cx="29.0" cy="471.1" r="4.1"/><circle cx="1173.4" cy="471.1" r="4.0"/><circle cx="1181.0" cy="471.1" r="4.0"/><circle cx="1188.7" cy="471.1" r="4.0"/><circle cx="1196.4" cy="471.1" r="4.0"/><circle cx="1204.1" cy="471.1" r="4.0"/><circle cx="1211.8" cy="471.1" r="4.0"/><circle cx="-1.7" cy="478.8" r="4.1"/><circle cx="6.0" cy="478.8" r="4.1"/><circle cx="13.7" cy="478.8" r="4.1"/><circle cx="21.4" cy="478.8" r="4.1"/><circle cx="29.0" cy="478.8" r="4.1"/><circle cx="1173.4" cy="478.8" r="4.0"/><circle cx="1181.0" cy="478.8" r="4.0"/><circle cx="1188.7" cy="478.8" r="4.0"/><circle cx="1196.4" cy="478.8" r="4.0"/><circle cx="1204.1" cy="478.8" r="4.0"/><circle cx="1211.8" cy="478.8" r="4.0"/><circle cx="-1.7" cy="486.4" r="4.2"/><circle cx="6.0" cy="486.4" r="4.2"/><circle cx="13.7" cy="486.4" r="4.2"/><circle cx="21.4" cy="486.4" r="4.2"/><circle cx="29.0" cy="486.4" r="4.2"/><circle cx="1173.4" cy="486.4" r="4.0"/><circle cx="1181.0" cy="486.4" r="4.0"/><circle cx="1188.7" cy="486.4" r="4.0"/><circle cx="1196.4" cy="486.4" r="4.0"/><circle cx="1204.1" cy="486.4" r="4.0"/><circle cx="1211.8" cy="486.4" r="4.0"/><circle cx="-1.7" cy="494.1" r="4.2"/><circle cx="6.0" cy="494.1" r="4.2"/><circle cx="13.7" cy="494.1" r="4.2"/><circle cx="21.4" cy="494.1" r="4.2"/><circle cx="29.0" cy="494.1" r="4.2"/><circle cx="1173.4" cy="494.1" r="4.0"/><circle cx="1181.0" cy="494.1" r="4.0"/><circle cx="1188.7" cy="494.1" r="4.0"/><circle cx="1196.4" cy="494.1" r="4.0"/><circle cx="1204.1" cy="494.1" r="4.0"/><circle cx="1211.8" cy="494.1" r="4.0"/><circle cx="-1.7" cy="501.8" r="4.2"/><circle cx="6.0" cy="501.8" r="4.2"/><circle cx="13.7" cy="501.8" r="4.2"/><circle cx="21.4" cy="501.8" r="4.2"/><circle cx="29.0" cy="501.8" r="4.2"/><circle cx="1173.4" cy="501.8" r="3.9"/><circle cx="1181.0" cy="501.8" r="3.9"/><circle cx="1188.7" cy="501.8" r="3.9"/><circle cx="1196.4" cy="501.8" r="3.9"/><circle cx="1204.1" cy="501.8" r="3.9"/><circle cx="1211.8" cy="501.8" r="3.9"/><circle cx="-1.7" cy="509.5" r="4.3"/><circle cx="6.0" cy="509.5" r="4.3"/><circle cx="13.7" cy="509.5" r="4.3"/><circle cx="21.4" cy="509.5" r="4.3"/><circle cx="29.0" cy="509.5" r="4.3"/><circle cx="1173.4" cy="509.5" r="3.9"/><circle cx="1181.0" cy="509.5" r="3.9"/><circle cx="1188.7" cy="509.5" r="3.9"/><circle cx="1196.4" cy="509.5" r="3.9"/><circle cx="1204.1" cy="509.5" r="3.9"/><circle cx="1211.8" cy="509.5" r="3.9"/><circle cx="-1.7" cy="517.2" r="4.3"/><circle cx="6.0" cy="517.2" r="4.3"/><circle cx="13.7" cy="517.2" r="4.3"/><circle cx="21.4" cy="517.2" r="4.3"/><circle cx="29.0" cy="517.2" r="4.3"/><circle cx="1173.4" cy="517.2" r="3.9"/><circle cx="1181.0" cy="517.2" r="3.9"/><circle cx="1188.7" cy="517.2" r="3.9"/><circle cx="1196.4" cy="517.2" r="3.9"/><circle cx="1204.1" cy="517.2" r="3.9"/><circle cx="1211.8" cy="517.2" r="3.9"/><circle cx="-1.7" cy="524.8" r="4.3"/><circle cx="6.0" cy="524.8" r="4.3"/><circle cx="13.7" cy="524.8" r="4.3"/><circle cx="21.4" cy="524.8" r="4.3"/><circle cx="29.0" cy="524.8" r="4.3"/><circle cx="1173.4" cy="524.8" r="3.9"/><circle cx="1181.0" cy="524.8" r="3.9"/><circle cx="1188.7" cy="524.8" r="3.9"/><circle cx="1196.4" cy="524.8" r="3.9"/><circle cx="1204.1" cy="524.8" r="3.9"/><circle cx="1211.8" cy="524.8" r="3.9"/><circle cx="-1.7" cy="532.5" r="4.4"/><circle cx="6.0" cy="532.5" r="4.4"/><circle cx="13.7" cy="532.5" r="4.4"/><circle cx="21.4" cy="532.5" r="4.4"/><circle cx="29.0" cy="532.5" r="4.4"/><circle cx="1173.4" cy="532.5" r="3.9"/><circle cx="1181.0" cy="532.5" r="3.9"/><circle cx="1188.7" cy="532.5" r="3.9"/><circle cx="1196.4" cy="532.5" r="3.9"/><circle cx="1204.1" cy="532.5" r="3.9"/><circle cx="1211.8" cy="532.5" r="3.9"/><circle cx="-1.7" cy="540.2" r="5.5"/><circle cx="6.0" cy="540.2" r="5.5"/><circle cx="13.7" cy="540.2" r="5.5"/><circle cx="21.4" cy="540.2" r="5.0"/><circle cx="29.0" cy="540.2" r="4.9"/><circle cx="1173.4" cy="540.2" r="3.9"/><circle cx="1181.0" cy="540.2" r="4.0"/><circle cx="1188.7" cy="540.2" r="4.1"/><circle cx="1196.4" cy="540.2" r="4.3"/><circle cx="1204.1" cy="540.2" r="4.5"/><circle cx="1211.8" cy="540.2" r="4.7"/><circle cx="-1.7" cy="547.9" r="5.5"/><circle cx="6.0" cy="547.9" r="5.5"/><circle cx="13.7" cy="547.9" r="5.5"/><circle cx="21.4" cy="547.9" r="5.0"/><circle cx="29.0" cy="547.9" r="4.9"/><circle cx="36.7" cy="547.9" r="4.7"/><circle cx="44.4" cy="547.9" r="4.6"/><circle cx="52.1" cy="547.9" r="4.5"/><circle cx="59.8" cy="547.9" r="4.4"/><circle cx="67.4" cy="547.9" r="4.4"/><circle cx="75.1" cy="547.9" r="4.3"/><circle cx="82.8" cy="547.9" r="4.2"/><circle cx="90.5" cy="547.9" r="4.2"/><circle cx="98.2" cy="547.9" r="4.1"/><circle cx="105.8" cy="547.9" r="4.0"/><circle cx="113.5" cy="547.9" r="4.0"/><circle cx="121.2" cy="547.9" r="3.9"/><circle cx="128.9" cy="547.9" r="3.8"/><circle cx="136.6" cy="547.9" r="3.8"/><circle cx="144.2" cy="547.9" r="3.7"/><circle cx="151.9" cy="547.9" r="3.7"/><circle cx="159.6" cy="547.9" r="3.6"/><circle cx="167.3" cy="547.9" r="3.6"/><circle cx="175.0" cy="547.9" r="3.5"/><circle cx="182.6" cy="547.9" r="3.5"/><circle cx="190.3" cy="547.9" r="3.4"/><circle cx="198.0" cy="547.9" r="3.4"/><circle cx="205.7" cy="547.9" r="3.3"/><circle cx="213.4" cy="547.9" r="3.3"/><circle cx="221.0" cy="547.9" r="3.2"/><circle cx="228.7" cy="547.9" r="3.2"/><circle cx="236.4" cy="547.9" r="3.1"/><circle cx="244.1" cy="547.9" r="3.0"/><circle cx="251.8" cy="547.9" r="3.0"/><circle cx="259.4" cy="547.9" r="2.9"/><circle cx="267.1" cy="547.9" r="2.9"/><circle cx="274.8" cy="547.9" r="2.8"/><circle cx="282.5" cy="547.9" r="2.8"/><circle cx="290.2" cy="547.9" r="2.7"/><circle cx="297.8" cy="547.9" r="2.6"/><circle cx="305.5" cy="547.9" r="2.6"/><circle cx="313.2" cy="547.9" r="2.5"/><circle cx="320.9" cy="547.9" r="2.5"/><circle cx="328.6" cy="547.9" r="2.4"/><circle cx="336.2" cy="547.9" r="2.3"/><circle cx="343.9" cy="547.9" r="2.2"/><circle cx="351.6" cy="547.9" r="2.2"/><circle cx="359.3" cy="547.9" r="2.1"/><circle cx="367.0" cy="547.9" r="2.0"/><circle cx="374.6" cy="547.9" r="1.9"/><circle cx="382.3" cy="547.9" r="1.9"/><circle cx="390.0" cy="547.9" r="1.8"/><circle cx="397.7" cy="547.9" r="1.7"/><circle cx="405.4" cy="547.9" r="1.6"/><circle cx="413.0" cy="547.9" r="1.5"/><circle cx="420.7" cy="547.9" r="1.4"/><circle cx="428.4" cy="547.9" r="1.2"/><circle cx="436.1" cy="547.9" r="1.1"/><circle cx="443.8" cy="547.9" r="0.9"/><circle cx="451.4" cy="547.9" r="0.8"/><circle cx="459.1" cy="547.9" r="0.5"/><circle cx="904.6" cy="547.9" r="0.5"/><circle cx="912.2" cy="547.9" r="0.6"/><circle cx="919.9" cy="547.9" r="0.7"/><circle cx="927.6" cy="547.9" r="0.8"/><circle cx="935.3" cy="547.9" r="1.0"/><circle cx="943.0" cy="547.9" r="1.1"/><circle cx="950.6" cy="547.9" r="1.2"/><circle cx="958.3" cy="547.9" r="1.3"/><circle cx="966.0" cy="547.9" r="1.4"/><circle cx="973.7" cy="547.9" r="1.5"/><circle cx="981.4" cy="547.9" r="1.6"/><circle cx="989.0" cy="547.9" r="1.7"/><circle cx="996.7" cy="547.9" r="1.8"/><circle cx="1004.4" cy="547.9" r="1.9"/><circle cx="1012.1" cy="547.9" r="2.0"/><circle cx="1019.8" cy="547.9" r="2.1"/><circle cx="1027.4" cy="547.9" r="2.2"/><circle cx="1035.1" cy="547.9" r="2.2"/><circle cx="1042.8" cy="547.9" r="2.3"/><circle cx="1050.5" cy="547.9" r="2.4"/><circle cx="1058.2" cy="547.9" r="2.5"/><circle cx="1065.8" cy="547.9" r="2.5"/><circle cx="1073.5" cy="547.9" r="2.6"/><circle cx="1081.2" cy="547.9" r="2.7"/><circle cx="1088.9" cy="547.9" r="2.8"/><circle cx="1096.6" cy="547.9" r="2.9"/><circle cx="1104.2" cy="547.9" r="3.0"/><circle cx="1111.9" cy="547.9" r="3.1"/><circle cx="1119.6" cy="547.9" r="3.2"/><circle cx="1127.3" cy="547.9" r="3.3"/><circle cx="1135.0" cy="547.9" r="3.4"/><circle cx="1142.6" cy="547.9" r="3.4"/><circle cx="1150.3" cy="547.9" r="3.5"/><circle cx="1158.0" cy="547.9" r="3.6"/><circle cx="1165.7" cy="547.9" r="3.9"/><circle cx="1173.4" cy="547.9" r="3.9"/><circle cx="1181.0" cy="547.9" r="3.9"/><circle cx="1188.7" cy="547.9" r="4.0"/><circle cx="1196.4" cy="547.9" r="4.1"/><circle cx="1204.1" cy="547.9" r="4.3"/><circle cx="1211.8" cy="547.9" r="4.5"/><circle cx="-1.7" cy="555.6" r="5.5"/><circle cx="6.0" cy="555.6" r="5.5"/><circle cx="13.7" cy="555.6" r="5.5"/><circle cx="21.4" cy="555.6" r="5.0"/><circle cx="29.0" cy="555.6" r="4.9"/><circle cx="36.7" cy="555.6" r="4.7"/><circle cx="44.4" cy="555.6" r="4.6"/><circle cx="52.1" cy="555.6" r="4.5"/><circle cx="59.8" cy="555.6" r="4.4"/><circle cx="67.4" cy="555.6" r="4.4"/><circle cx="75.1" cy="555.6" r="4.3"/><circle cx="82.8" cy="555.6" r="4.2"/><circle cx="90.5" cy="555.6" r="4.2"/><circle cx="98.2" cy="555.6" r="4.1"/><circle cx="105.8" cy="555.6" r="4.0"/><circle cx="113.5" cy="555.6" r="4.0"/><circle cx="121.2" cy="555.6" r="3.9"/><circle cx="128.9" cy="555.6" r="3.8"/><circle cx="136.6" cy="555.6" r="3.8"/><circle cx="144.2" cy="555.6" r="3.7"/><circle cx="151.9" cy="555.6" r="3.7"/><circle cx="159.6" cy="555.6" r="3.6"/><circle cx="167.3" cy="555.6" r="3.6"/><circle cx="175.0" cy="555.6" r="3.5"/><circle cx="182.6" cy="555.6" r="3.5"/><circle cx="190.3" cy="555.6" r="3.4"/><circle cx="198.0" cy="555.6" r="3.4"/><circle cx="205.7" cy="555.6" r="3.3"/><circle cx="213.4" cy="555.6" r="3.3"/><circle cx="221.0" cy="555.6" r="3.2"/><circle cx="228.7" cy="555.6" r="3.2"/><circle cx="236.4" cy="555.6" r="3.1"/><circle cx="244.1" cy="555.6" r="3.0"/><circle cx="251.8" cy="555.6" r="3.0"/><circle cx="259.4" cy="555.6" r="2.9"/><circle cx="267.1" cy="555.6" r="2.9"/><circle cx="274.8" cy="555.6" r="2.8"/><circle cx="282.5" cy="555.6" r="2.8"/><circle cx="290.2" cy="555.6" r="2.7"/><circle cx="297.8" cy="555.6" r="2.6"/><circle cx="305.5" cy="555.6" r="2.6"/><circle cx="313.2" cy="555.6" r="2.5"/><circle cx="320.9" cy="555.6" r="2.5"/><circle cx="328.6" cy="555.6" r="2.4"/><circle cx="336.2" cy="555.6" r="2.3"/><circle cx="343.9" cy="555.6" r="2.2"/><circle cx="351.6" cy="555.6" r="2.2"/><circle cx="359.3" cy="555.6" r="2.1"/><circle cx="367.0" cy="555.6" r="2.0"/><circle cx="374.6" cy="555.6" r="1.9"/><circle cx="382.3" cy="555.6" r="1.9"/><circle cx="390.0" cy="555.6" r="1.8"/><circle cx="397.7" cy="555.6" r="1.7"/><circle cx="405.4" cy="555.6" r="1.6"/><circle cx="413.0" cy="555.6" r="1.5"/><circle cx="420.7" cy="555.6" r="1.4"/><circle cx="428.4" cy="555.6" r="1.2"/><circle cx="436.1" cy="555.6" r="1.1"/><circle cx="443.8" cy="555.6" r="0.9"/><circle cx="451.4" cy="555.6" r="0.8"/><circle cx="459.1" cy="555.6" r="0.5"/><circle cx="912.2" cy="555.6" r="0.5"/><circle cx="919.9" cy="555.6" r="0.6"/><circle cx="927.6" cy="555.6" r="0.7"/><circle cx="935.3" cy="555.6" r="0.8"/><circle cx="943.0" cy="555.6" r="1.0"/><circle cx="950.6" cy="555.6" r="1.1"/><circle cx="958.3" cy="555.6" r="1.2"/><circle cx="966.0" cy="555.6" r="1.3"/><circle cx="973.7" cy="555.6" r="1.4"/><circle cx="981.4" cy="555.6" r="1.5"/><circle cx="989.0" cy="555.6" r="1.6"/><circle cx="996.7" cy="555.6" r="1.7"/><circle cx="1004.4" cy="555.6" r="1.8"/><circle cx="1012.1" cy="555.6" r="1.9"/><circle cx="1019.8" cy="555.6" r="2.0"/><circle cx="1027.4" cy="555.6" r="2.1"/><circle cx="1035.1" cy="555.6" r="2.2"/><circle cx="1042.8" cy="555.6" r="2.2"/><circle cx="1050.5" cy="555.6" r="2.3"/><circle cx="1058.2" cy="555.6" r="2.4"/><circle cx="1065.8" cy="555.6" r="2.5"/><circle cx="1073.5" cy="555.6" r="2.5"/><circle cx="1081.2" cy="555.6" r="2.6"/><circle cx="1088.9" cy="555.6" r="2.7"/><circle cx="1096.6" cy="555.6" r="2.8"/><circle cx="1104.2" cy="555.6" r="2.9"/><circle cx="1111.9" cy="555.6" r="3.0"/><circle cx="1119.6" cy="555.6" r="3.1"/><circle cx="1127.3" cy="555.6" r="3.2"/><circle cx="1135.0" cy="555.6" r="3.3"/><circle cx="1142.6" cy="555.6" r="3.4"/><circle cx="1150.3" cy="555.6" r="3.4"/><circle cx="1158.0" cy="555.6" r="3.5"/><circle cx="1165.7" cy="555.6" r="3.9"/><circle cx="1173.4" cy="555.6" r="3.9"/><circle cx="1181.0" cy="555.6" r="3.9"/><circle cx="1188.7" cy="555.6" r="3.9"/><circle cx="1196.4" cy="555.6" r="4.0"/><circle cx="1204.1" cy="555.6" r="4.1"/><circle cx="1211.8" cy="555.6" r="4.3"/><circle cx="-1.7" cy="563.2" r="5.5"/><circle cx="6.0" cy="563.2" r="5.5"/><circle cx="13.7" cy="563.2" r="5.5"/><circle cx="21.4" cy="563.2" r="5.0"/><circle cx="29.0" cy="563.2" r="4.9"/><circle cx="36.7" cy="563.2" r="4.7"/><circle cx="44.4" cy="563.2" r="4.6"/><circle cx="52.1" cy="563.2" r="4.5"/><circle cx="59.8" cy="563.2" r="4.4"/><circle cx="67.4" cy="563.2" r="4.4"/><circle cx="75.1" cy="563.2" r="4.3"/><circle cx="82.8" cy="563.2" r="4.2"/><circle cx="90.5" cy="563.2" r="4.2"/><circle cx="98.2" cy="563.2" r="4.1"/><circle cx="105.8" cy="563.2" r="4.0"/><circle cx="113.5" cy="563.2" r="4.0"/><circle cx="121.2" cy="563.2" r="3.9"/><circle cx="128.9" cy="563.2" r="3.8"/><circle cx="136.6" cy="563.2" r="3.8"/><circle cx="144.2" cy="563.2" r="3.8"/><circle cx="151.9" cy="563.2" r="3.7"/><circle cx="159.6" cy="563.2" r="3.7"/><circle cx="167.3" cy="563.2" r="3.6"/><circle cx="175.0" cy="563.2" r="3.5"/><circle cx="182.6" cy="563.2" r="3.5"/><circle cx="190.3" cy="563.2" r="3.4"/><circle cx="198.0" cy="563.2" r="3.4"/><circle cx="205.7" cy="563.2" r="3.3"/><circle cx="213.4" cy="563.2" r="3.3"/><circle cx="221.0" cy="563.2" r="3.2"/><circle cx="228.7" cy="563.2" r="3.2"/><circle cx="236.4" cy="563.2" r="3.1"/><circle cx="244.1" cy="563.2" r="3.0"/><circle cx="251.8" cy="563.2" r="3.0"/><circle cx="259.4" cy="563.2" r="2.9"/><circle cx="267.1" cy="563.2" r="2.9"/><circle cx="274.8" cy="563.2" r="2.8"/><circle cx="282.5" cy="563.2" r="2.8"/><circle cx="290.2" cy="563.2" r="2.7"/><circle cx="297.8" cy="563.2" r="2.6"/><circle cx="305.5" cy="563.2" r="2.6"/><circle cx="313.2" cy="563.2" r="2.5"/><circle cx="320.9" cy="563.2" r="2.5"/><circle cx="328.6" cy="563.2" r="2.4"/><circle cx="336.2" cy="563.2" r="2.3"/><circle cx="343.9" cy="563.2" r="2.3"/><circle cx="351.6" cy="563.2" r="2.2"/><circle cx="359.3" cy="563.2" r="2.1"/><circle cx="367.0" cy="563.2" r="2.0"/><circle cx="374.6" cy="563.2" r="1.9"/><circle cx="382.3" cy="563.2" r="1.9"/><circle cx="390.0" cy="563.2" r="1.8"/><circle cx="397.7" cy="563.2" r="1.7"/><circle cx="405.4" cy="563.2" r="1.6"/><circle cx="413.0" cy="563.2" r="1.5"/><circle cx="420.7" cy="563.2" r="1.3"/><circle cx="428.4" cy="563.2" r="1.2"/><circle cx="436.1" cy="563.2" r="1.1"/><circle cx="443.8" cy="563.2" r="0.9"/><circle cx="451.4" cy="563.2" r="0.7"/><circle cx="459.1" cy="563.2" r="0.5"/><circle cx="919.9" cy="563.2" r="0.5"/><circle cx="927.6" cy="563.2" r="0.6"/><circle cx="935.3" cy="563.2" r="0.7"/><circle cx="943.0" cy="563.2" r="0.8"/><circle cx="950.6" cy="563.2" r="1.0"/><circle cx="958.3" cy="563.2" r="1.1"/><circle cx="966.0" cy="563.2" r="1.2"/><circle cx="973.7" cy="563.2" r="1.3"/><circle cx="981.4" cy="563.2" r="1.4"/><circle cx="989.0" cy="563.2" r="1.5"/><circle cx="996.7" cy="563.2" r="1.6"/><circle cx="1004.4" cy="563.2" r="1.7"/><circle cx="1012.1" cy="563.2" r="1.8"/><circle cx="1019.8" cy="563.2" r="1.9"/><circle cx="1027.4" cy="563.2" r="2.0"/><circle cx="1035.1" cy="563.2" r="2.1"/><circle cx="1042.8" cy="563.2" r="2.2"/><circle cx="1050.5" cy="563.2" r="2.2"/><circle cx="1058.2" cy="563.2" r="2.3"/><circle cx="1065.8" cy="563.2" r="2.4"/><circle cx="1073.5" cy="563.2" r="2.5"/><circle cx="1081.2" cy="563.2" r="2.5"/><circle cx="1088.9" cy="563.2" r="2.6"/><circle cx="1096.6" cy="563.2" r="2.7"/><circle cx="1104.2" cy="563.2" r="2.7"/><circle cx="1111.9" cy="563.2" r="2.9"/><circle cx="1119.6" cy="563.2" r="3.0"/><circle cx="1127.3" cy="563.2" r="3.1"/><circle cx="1135.0" cy="563.2" r="3.2"/><circle cx="1142.6" cy="563.2" r="3.3"/><circle cx="1150.3" cy="563.2" r="3.3"/><circle cx="1158.0" cy="563.2" r="3.4"/><circle cx="1165.7" cy="563.2" r="3.8"/><circle cx="1173.4" cy="563.2" r="3.8"/><circle cx="1181.0" cy="563.2" r="3.8"/><circle cx="1188.7" cy="563.2" r="3.8"/><circle cx="1196.4" cy="563.2" r="3.9"/><circle cx="1204.1" cy="563.2" r="4.0"/><circle cx="1211.8" cy="563.2" r="4.1"/><circle cx="-1.7" cy="570.9" r="5.5"/><circle cx="6.0" cy="570.9" r="5.5"/><circle cx="13.7" cy="570.9" r="5.5"/><circle cx="21.4" cy="570.9" r="5.1"/><circle cx="29.0" cy="570.9" r="4.9"/><circle cx="36.7" cy="570.9" r="4.7"/><circle cx="44.4" cy="570.9" r="4.6"/><circle cx="52.1" cy="570.9" r="4.5"/><circle cx="59.8" cy="570.9" r="4.5"/><circle cx="67.4" cy="570.9" r="4.4"/><circle cx="75.1" cy="570.9" r="4.3"/><circle cx="82.8" cy="570.9" r="4.3"/><circle cx="90.5" cy="570.9" r="4.2"/><circle cx="98.2" cy="570.9" r="4.1"/><circle cx="105.8" cy="570.9" r="4.1"/><circle cx="113.5" cy="570.9" r="4.0"/><circle cx="121.2" cy="570.9" r="3.9"/><circle cx="128.9" cy="570.9" r="3.9"/><circle cx="136.6" cy="570.9" r="3.8"/><circle cx="144.2" cy="570.9" r="3.8"/><circle cx="151.9" cy="570.9" r="3.7"/><circle cx="159.6" cy="570.9" r="3.7"/><circle cx="167.3" cy="570.9" r="3.6"/><circle cx="175.0" cy="570.9" r="3.6"/><circle cx="182.6" cy="570.9" r="3.5"/><circle cx="190.3" cy="570.9" r="3.5"/><circle cx="198.0" cy="570.9" r="3.4"/><circle cx="205.7" cy="570.9" r="3.4"/><circle cx="213.4" cy="570.9" r="3.3"/><circle cx="221.0" cy="570.9" r="3.2"/><circle cx="228.7" cy="570.9" r="3.2"/><circle cx="236.4" cy="570.9" r="3.1"/><circle cx="244.1" cy="570.9" r="3.1"/><circle cx="251.8" cy="570.9" r="3.0"/><circle cx="259.4" cy="570.9" r="3.0"/><circle cx="267.1" cy="570.9" r="2.9"/><circle cx="274.8" cy="570.9" r="2.9"/><circle cx="282.5" cy="570.9" r="2.8"/><circle cx="290.2" cy="570.9" r="2.7"/><circle cx="297.8" cy="570.9" r="2.7"/><circle cx="305.5" cy="570.9" r="2.6"/><circle cx="313.2" cy="570.9" r="2.5"/><circle cx="320.9" cy="570.9" r="2.5"/><circle cx="328.6" cy="570.9" r="2.4"/><circle cx="336.2" cy="570.9" r="2.3"/><circle cx="343.9" cy="570.9" r="2.3"/><circle cx="351.6" cy="570.9" r="2.2"/><circle cx="359.3" cy="570.9" r="2.1"/><circle cx="367.0" cy="570.9" r="2.0"/><circle cx="374.6" cy="570.9" r="1.9"/><circle cx="382.3" cy="570.9" r="1.8"/><circle cx="390.0" cy="570.9" r="1.7"/><circle cx="397.7" cy="570.9" r="1.7"/><circle cx="405.4" cy="570.9" r="1.5"/><circle cx="413.0" cy="570.9" r="1.4"/><circle cx="420.7" cy="570.9" r="1.3"/><circle cx="428.4" cy="570.9" r="1.2"/><circle cx="436.1" cy="570.9" r="1.0"/><circle cx="443.8" cy="570.9" r="0.9"/><circle cx="451.4" cy="570.9" r="0.7"/><circle cx="459.1" cy="570.9" r="0.5"/><circle cx="927.6" cy="570.9" r="0.5"/><circle cx="935.3" cy="570.9" r="0.6"/><circle cx="943.0" cy="570.9" r="0.7"/><circle cx="950.6" cy="570.9" r="0.8"/><circle cx="958.3" cy="570.9" r="0.9"/><circle cx="966.0" cy="570.9" r="1.1"/><circle cx="973.7" cy="570.9" r="1.2"/><circle cx="981.4" cy="570.9" r="1.3"/><circle cx="989.0" cy="570.9" r="1.4"/><circle cx="996.7" cy="570.9" r="1.5"/><circle cx="1004.4" cy="570.9" r="1.6"/><circle cx="1012.1" cy="570.9" r="1.7"/><circle cx="1019.8" cy="570.9" r="1.8"/><circle cx="1027.4" cy="570.9" r="1.9"/><circle cx="1035.1" cy="570.9" r="2.0"/><circle cx="1042.8" cy="570.9" r="2.1"/><circle cx="1050.5" cy="570.9" r="2.2"/><circle cx="1058.2" cy="570.9" r="2.2"/><circle cx="1065.8" cy="570.9" r="2.3"/><circle cx="1073.5" cy="570.9" r="2.4"/><circle cx="1081.2" cy="570.9" r="2.5"/><circle cx="1088.9" cy="570.9" r="2.5"/><circle cx="1096.6" cy="570.9" r="2.6"/><circle cx="1104.2" cy="570.9" r="2.7"/><circle cx="1111.9" cy="570.9" r="2.7"/><circle cx="1119.6" cy="570.9" r="2.9"/><circle cx="1127.3" cy="570.9" r="3.0"/><circle cx="1135.0" cy="570.9" r="3.1"/><circle cx="1142.6" cy="570.9" r="3.2"/><circle cx="1150.3" cy="570.9" r="3.3"/><circle cx="1158.0" cy="570.9" r="3.3"/><circle cx="1165.7" cy="570.9" r="3.8"/><circle cx="1173.4" cy="570.9" r="3.8"/><circle cx="1181.0" cy="570.9" r="3.8"/><circle cx="1188.7" cy="570.9" r="3.8"/><circle cx="1196.4" cy="570.9" r="3.8"/><circle cx="1204.1" cy="570.9" r="3.9"/><circle cx="1211.8" cy="570.9" r="4.0"/><circle cx="-1.7" cy="578.6" r="5.5"/><circle cx="6.0" cy="578.6" r="5.5"/><circle cx="13.7" cy="578.6" r="5.5"/><circle cx="21.4" cy="578.6" r="5.1"/><circle cx="29.0" cy="578.6" r="4.9"/><circle cx="36.7" cy="578.6" r="4.8"/><circle cx="44.4" cy="578.6" r="4.7"/><circle cx="52.1" cy="578.6" r="4.6"/><circle cx="59.8" cy="578.6" r="4.5"/><circle cx="67.4" cy="578.6" r="4.4"/><circle cx="75.1" cy="578.6" r="4.3"/><circle cx="82.8" cy="578.6" r="4.3"/><circle cx="90.5" cy="578.6" r="4.2"/><circle cx="98.2" cy="578.6" r="4.2"/><circle cx="105.8" cy="578.6" r="4.1"/><circle cx="113.5" cy="578.6" r="4.0"/><circle cx="121.2" cy="578.6" r="4.0"/><circle cx="128.9" cy="578.6" r="3.9"/><circle cx="136.6" cy="578.6" r="3.8"/><circle cx="144.2" cy="578.6" r="3.8"/><circle cx="151.9" cy="578.6" r="3.7"/><circle cx="159.6" cy="578.6" r="3.7"/><circle cx="167.3" cy="578.6" r="3.6"/><circle cx="175.0" cy="578.6" r="3.6"/><circle cx="182.6" cy="578.6" r="3.5"/><circle cx="190.3" cy="578.6" r="3.5"/><circle cx="198.0" cy="578.6" r="3.4"/><circle cx="205.7" cy="578.6" r="3.4"/><circle cx="213.4" cy="578.6" r="3.3"/><circle cx="221.0" cy="578.6" r="3.3"/><circle cx="228.7" cy="578.6" r="3.2"/><circle cx="236.4" cy="578.6" r="3.2"/><circle cx="244.1" cy="578.6" r="3.1"/><circle cx="251.8" cy="578.6" r="3.0"/><circle cx="259.4" cy="578.6" r="3.0"/><circle cx="267.1" cy="578.6" r="2.9"/><circle cx="274.8" cy="578.6" r="2.9"/><circle cx="282.5" cy="578.6" r="2.8"/><circle cx="290.2" cy="578.6" r="2.8"/><circle cx="297.8" cy="578.6" r="2.7"/><circle cx="305.5" cy="578.6" r="2.6"/><circle cx="313.2" cy="578.6" r="2.6"/><circle cx="320.9" cy="578.6" r="2.5"/><circle cx="328.6" cy="578.6" r="2.4"/><circle cx="336.2" cy="578.6" r="2.3"/><circle cx="343.9" cy="578.6" r="2.3"/><circle cx="351.6" cy="578.6" r="2.2"/><circle cx="359.3" cy="578.6" r="2.1"/><circle cx="367.0" cy="578.6" r="2.0"/><circle cx="374.6" cy="578.6" r="1.9"/><circle cx="382.3" cy="578.6" r="1.8"/><circle cx="390.0" cy="578.6" r="1.7"/><circle cx="397.7" cy="578.6" r="1.6"/><circle cx="405.4" cy="578.6" r="1.5"/><circle cx="413.0" cy="578.6" r="1.4"/><circle cx="420.7" cy="578.6" r="1.3"/><circle cx="428.4" cy="578.6" r="1.1"/><circle cx="436.1" cy="578.6" r="1.0"/><circle cx="443.8" cy="578.6" r="0.8"/><circle cx="451.4" cy="578.6" r="0.7"/><circle cx="459.1" cy="578.6" r="0.4"/><circle cx="935.3" cy="578.6" r="0.5"/><circle cx="943.0" cy="578.6" r="0.6"/><circle cx="950.6" cy="578.6" r="0.7"/><circle cx="958.3" cy="578.6" r="0.8"/><circle cx="966.0" cy="578.6" r="0.9"/><circle cx="973.7" cy="578.6" r="1.1"/><circle cx="981.4" cy="578.6" r="1.2"/><circle cx="989.0" cy="578.6" r="1.3"/><circle cx="996.7" cy="578.6" r="1.4"/><circle cx="1004.4" cy="578.6" r="1.5"/><circle cx="1012.1" cy="578.6" r="1.6"/><circle cx="1019.8" cy="578.6" r="1.7"/><circle cx="1027.4" cy="578.6" r="1.8"/><circle cx="1035.1" cy="578.6" r="1.9"/><circle cx="1042.8" cy="578.6" r="2.0"/><circle cx="1050.5" cy="578.6" r="2.1"/><circle cx="1058.2" cy="578.6" r="2.2"/><circle cx="1065.8" cy="578.6" r="2.2"/><circle cx="1073.5" cy="578.6" r="2.3"/><circle cx="1081.2" cy="578.6" r="2.4"/><circle cx="1088.9" cy="578.6" r="2.5"/><circle cx="1096.6" cy="578.6" r="2.5"/><circle cx="1104.2" cy="578.6" r="2.6"/><circle cx="1111.9" cy="578.6" r="2.7"/><circle cx="1119.6" cy="578.6" r="2.7"/><circle cx="1127.3" cy="578.6" r="2.8"/><circle cx="1135.0" cy="578.6" r="3.0"/><circle cx="1142.6" cy="578.6" r="3.1"/><circle cx="1150.3" cy="578.6" r="3.2"/><circle cx="1158.0" cy="578.6" r="3.2"/><circle cx="1165.7" cy="578.6" r="3.7"/><circle cx="1173.4" cy="578.6" r="3.7"/><circle cx="1181.0" cy="578.6" r="3.7"/><circle cx="1188.7" cy="578.6" r="3.7"/><circle cx="1196.4" cy="578.6" r="3.7"/><circle cx="1204.1" cy="578.6" r="3.8"/><circle cx="1211.8" cy="578.6" r="3.8"/><circle cx="-1.7" cy="586.3" r="5.5"/><circle cx="6.0" cy="586.3" r="5.5"/><circle cx="13.7" cy="586.3" r="5.5"/><circle cx="21.4" cy="586.3" r="5.1"/><circle cx="29.0" cy="586.3" r="4.9"/><circle cx="36.7" cy="586.3" r="4.8"/><circle cx="44.4" cy="586.3" r="4.7"/><circle cx="52.1" cy="586.3" r="4.6"/><circle cx="59.8" cy="586.3" r="4.5"/><circle cx="67.4" cy="586.3" r="4.4"/><circle cx="75.1" cy="586.3" r="4.4"/><circle cx="82.8" cy="586.3" r="4.3"/><circle cx="90.5" cy="586.3" r="4.2"/><circle cx="98.2" cy="586.3" r="4.2"/><circle cx="105.8" cy="586.3" r="4.1"/><circle cx="113.5" cy="586.3" r="4.0"/><circle cx="121.2" cy="586.3" r="4.0"/><circle cx="128.9" cy="586.3" r="3.9"/><circle cx="136.6" cy="586.3" r="3.9"/><circle cx="144.2" cy="586.3" r="3.8"/><circle cx="151.9" cy="586.3" r="3.8"/><circle cx="159.6" cy="586.3" r="3.7"/><circle cx="167.3" cy="586.3" r="3.7"/><circle cx="175.0" cy="586.3" r="3.6"/><circle cx="182.6" cy="586.3" r="3.6"/><circle cx="190.3" cy="586.3" r="3.5"/><circle cx="198.0" cy="586.3" r="3.5"/><circle cx="205.7" cy="586.3" r="3.4"/><circle cx="213.4" cy="586.3" r="3.3"/><circle cx="221.0" cy="586.3" r="3.3"/><circle cx="228.7" cy="586.3" r="3.2"/><circle cx="236.4" cy="586.3" r="3.2"/><circle cx="244.1" cy="586.3" r="3.1"/><circle cx="251.8" cy="586.3" r="3.1"/><circle cx="259.4" cy="586.3" r="3.0"/><circle cx="267.1" cy="586.3" r="3.0"/><circle cx="274.8" cy="586.3" r="2.9"/><circle cx="282.5" cy="586.3" r="2.8"/><circle cx="290.2" cy="586.3" r="2.8"/><circle cx="297.8" cy="586.3" r="2.7"/><circle cx="305.5" cy="586.3" r="2.6"/><circle cx="313.2" cy="586.3" r="2.6"/><circle cx="320.9" cy="586.3" r="2.5"/><circle cx="328.6" cy="586.3" r="2.4"/><circle cx="336.2" cy="586.3" r="2.3"/><circle cx="343.9" cy="586.3" r="2.3"/><circle cx="351.6" cy="586.3" r="2.2"/><circle cx="359.3" cy="586.3" r="2.1"/><circle cx="367.0" cy="586.3" r="2.0"/><circle cx="374.6" cy="586.3" r="1.9"/><circle cx="382.3" cy="586.3" r="1.8"/><circle cx="390.0" cy="586.3" r="1.7"/><circle cx="397.7" cy="586.3" r="1.6"/><circle cx="405.4" cy="586.3" r="1.5"/><circle cx="413.0" cy="586.3" r="1.4"/><circle cx="420.7" cy="586.3" r="1.2"/><circle cx="428.4" cy="586.3" r="1.1"/><circle cx="436.1" cy="586.3" r="0.9"/><circle cx="443.8" cy="586.3" r="0.8"/><circle cx="451.4" cy="586.3" r="0.6"/><circle cx="943.0" cy="586.3" r="0.5"/><circle cx="950.6" cy="586.3" r="0.6"/><circle cx="958.3" cy="586.3" r="0.7"/><circle cx="966.0" cy="586.3" r="0.8"/><circle cx="973.7" cy="586.3" r="0.9"/><circle cx="981.4" cy="586.3" r="1.1"/><circle cx="989.0" cy="586.3" r="1.2"/><circle cx="996.7" cy="586.3" r="1.3"/><circle cx="1004.4" cy="586.3" r="1.4"/><circle cx="1012.1" cy="586.3" r="1.5"/><circle cx="1019.8" cy="586.3" r="1.6"/><circle cx="1027.4" cy="586.3" r="1.7"/><circle cx="1035.1" cy="586.3" r="1.8"/><circle cx="1042.8" cy="586.3" r="1.9"/><circle cx="1050.5" cy="586.3" r="2.0"/><circle cx="1058.2" cy="586.3" r="2.1"/><circle cx="1065.8" cy="586.3" r="2.1"/><circle cx="1073.5" cy="586.3" r="2.2"/><circle cx="1081.2" cy="586.3" r="2.3"/><circle cx="1088.9" cy="586.3" r="2.4"/><circle cx="1096.6" cy="586.3" r="2.5"/><circle cx="1104.2" cy="586.3" r="2.5"/><circle cx="1111.9" cy="586.3" r="2.6"/><circle cx="1119.6" cy="586.3" r="2.7"/><circle cx="1127.3" cy="586.3" r="2.7"/><circle cx="1135.0" cy="586.3" r="2.8"/><circle cx="1142.6" cy="586.3" r="2.9"/><circle cx="1150.3" cy="586.3" r="3.1"/><circle cx="1158.0" cy="586.3" r="3.1"/><circle cx="1165.7" cy="586.3" r="3.7"/><circle cx="1173.4" cy="586.3" r="3.7"/><circle cx="1181.0" cy="586.3" r="3.7"/><circle cx="1188.7" cy="586.3" r="3.7"/><circle cx="1196.4" cy="586.3" r="3.7"/><circle cx="1204.1" cy="586.3" r="3.7"/><circle cx="1211.8" cy="586.3" r="3.8"/><circle cx="-1.7" cy="594.0" r="5.5"/><circle cx="6.0" cy="594.0" r="5.5"/><circle cx="13.7" cy="594.0" r="5.5"/><circle cx="21.4" cy="594.0" r="5.1"/><circle cx="29.0" cy="594.0" r="4.9"/><circle cx="36.7" cy="594.0" r="4.8"/><circle cx="44.4" cy="594.0" r="4.7"/><circle cx="52.1" cy="594.0" r="4.6"/><circle cx="59.8" cy="594.0" r="4.5"/><circle cx="67.4" cy="594.0" r="4.4"/><circle cx="75.1" cy="594.0" r="4.4"/><circle cx="82.8" cy="594.0" r="4.3"/><circle cx="90.5" cy="594.0" r="4.3"/><circle cx="98.2" cy="594.0" r="4.2"/><circle cx="105.8" cy="594.0" r="4.1"/><circle cx="113.5" cy="594.0" r="4.1"/><circle cx="121.2" cy="594.0" r="4.0"/><circle cx="128.9" cy="594.0" r="3.9"/><circle cx="136.6" cy="594.0" r="3.9"/><circle cx="144.2" cy="594.0" r="3.8"/><circle cx="151.9" cy="594.0" r="3.8"/><circle cx="159.6" cy="594.0" r="3.7"/><circle cx="167.3" cy="594.0" r="3.7"/><circle cx="175.0" cy="594.0" r="3.6"/><circle cx="182.6" cy="594.0" r="3.6"/><circle cx="190.3" cy="594.0" r="3.5"/><circle cx="198.0" cy="594.0" r="3.5"/><circle cx="205.7" cy="594.0" r="3.4"/><circle cx="213.4" cy="594.0" r="3.4"/><circle cx="221.0" cy="594.0" r="3.3"/><circle cx="228.7" cy="594.0" r="3.3"/><circle cx="236.4" cy="594.0" r="3.2"/><circle cx="244.1" cy="594.0" r="3.1"/><circle cx="251.8" cy="594.0" r="3.1"/><circle cx="259.4" cy="594.0" r="3.0"/><circle cx="267.1" cy="594.0" r="3.0"/><circle cx="274.8" cy="594.0" r="2.9"/><circle cx="282.5" cy="594.0" r="2.9"/><circle cx="290.2" cy="594.0" r="2.8"/><circle cx="297.8" cy="594.0" r="2.7"/><circle cx="305.5" cy="594.0" r="2.7"/><circle cx="313.2" cy="594.0" r="2.6"/><circle cx="320.9" cy="594.0" r="2.5"/><circle cx="328.6" cy="594.0" r="2.4"/><circle cx="336.2" cy="594.0" r="2.4"/><circle cx="343.9" cy="594.0" r="2.3"/><circle cx="351.6" cy="594.0" r="2.2"/><circle cx="359.3" cy="594.0" r="2.1"/><circle cx="367.0" cy="594.0" r="2.0"/><circle cx="374.6" cy="594.0" r="1.9"/><circle cx="382.3" cy="594.0" r="1.8"/><circle cx="390.0" cy="594.0" r="1.7"/><circle cx="397.7" cy="594.0" r="1.6"/><circle cx="405.4" cy="594.0" r="1.5"/><circle cx="413.0" cy="594.0" r="1.3"/><circle cx="420.7" cy="594.0" r="1.2"/><circle cx="428.4" cy="594.0" r="1.0"/><circle cx="436.1" cy="594.0" r="0.8"/><circle cx="443.8" cy="594.0" r="0.7"/><circle cx="451.4" cy="594.0" r="0.6"/><circle cx="950.6" cy="594.0" r="0.5"/><circle cx="958.3" cy="594.0" r="0.6"/><circle cx="966.0" cy="594.0" r="0.7"/><circle cx="973.7" cy="594.0" r="0.8"/><circle cx="981.4" cy="594.0" r="0.9"/><circle cx="989.0" cy="594.0" r="1.1"/><circle cx="996.7" cy="594.0" r="1.2"/><circle cx="1004.4" cy="594.0" r="1.3"/><circle cx="1012.1" cy="594.0" r="1.4"/><circle cx="1019.8" cy="594.0" r="1.5"/><circle cx="1027.4" cy="594.0" r="1.6"/><circle cx="1035.1" cy="594.0" r="1.7"/><circle cx="1042.8" cy="594.0" r="1.8"/><circle cx="1050.5" cy="594.0" r="1.9"/><circle cx="1058.2" cy="594.0" r="2.0"/><circle cx="1065.8" cy="594.0" r="2.1"/><circle cx="1073.5" cy="594.0" r="2.1"/><circle cx="1081.2" cy="594.0" r="2.2"/><circle cx="1088.9" cy="594.0" r="2.3"/><circle cx="1096.6" cy="594.0" r="2.4"/><circle cx="1104.2" cy="594.0" r="2.5"/><circle cx="1111.9" cy="594.0" r="2.5"/><circle cx="1119.6" cy="594.0" r="2.6"/><circle cx="1127.3" cy="594.0" r="2.7"/><circle cx="1135.0" cy="594.0" r="2.7"/><circle cx="1142.6" cy="594.0" r="2.8"/><circle cx="1150.3" cy="594.0" r="2.9"/><circle cx="1158.0" cy="594.0" r="3.0"/><circle cx="1165.7" cy="594.0" r="3.6"/><circle cx="1173.4" cy="594.0" r="3.6"/><circle cx="1181.0" cy="594.0" r="3.6"/><circle cx="1188.7" cy="594.0" r="3.6"/><circle cx="1196.4" cy="594.0" r="3.6"/><circle cx="1204.1" cy="594.0" r="3.6"/><circle cx="1211.8" cy="594.0" r="3.7"/><circle cx="-1.7" cy="601.6" r="5.5"/><circle cx="6.0" cy="601.6" r="5.5"/><circle cx="13.7" cy="601.6" r="5.5"/><circle cx="21.4" cy="601.6" r="5.1"/><circle cx="29.0" cy="601.6" r="4.9"/><circle cx="36.7" cy="601.6" r="4.8"/><circle cx="44.4" cy="601.6" r="4.7"/><circle cx="52.1" cy="601.6" r="4.6"/><circle cx="59.8" cy="601.6" r="4.5"/><circle cx="67.4" cy="601.6" r="4.5"/><circle cx="75.1" cy="601.6" r="4.4"/><circle cx="82.8" cy="601.6" r="4.3"/><circle cx="90.5" cy="601.6" r="4.3"/><circle cx="98.2" cy="601.6" r="4.2"/><circle cx="105.8" cy="601.6" r="4.2"/><circle cx="113.5" cy="601.6" r="4.1"/><circle cx="121.2" cy="601.6" r="4.0"/><circle cx="128.9" cy="601.6" r="4.0"/><circle cx="136.6" cy="601.6" r="3.9"/><circle cx="144.2" cy="601.6" r="3.9"/><circle cx="151.9" cy="601.6" r="3.8"/><circle cx="159.6" cy="601.6" r="3.8"/><circle cx="167.3" cy="601.6" r="3.7"/><circle cx="175.0" cy="601.6" r="3.7"/><circle cx="182.6" cy="601.6" r="3.6"/><circle cx="190.3" cy="601.6" r="3.6"/><circle cx="198.0" cy="601.6" r="3.5"/><circle cx="205.7" cy="601.6" r="3.4"/><circle cx="213.4" cy="601.6" r="3.4"/><circle cx="221.0" cy="601.6" r="3.3"/><circle cx="228.7" cy="601.6" r="3.3"/><circle cx="236.4" cy="601.6" r="3.2"/><circle cx="244.1" cy="601.6" r="3.2"/><circle cx="251.8" cy="601.6" r="3.1"/><circle cx="259.4" cy="601.6" r="3.1"/><circle cx="267.1" cy="601.6" r="3.0"/><circle cx="274.8" cy="601.6" r="2.9"/><circle cx="282.5" cy="601.6" r="2.9"/><circle cx="290.2" cy="601.6" r="2.8"/><circle cx="297.8" cy="601.6" r="2.7"/><circle cx="305.5" cy="601.6" r="2.7"/><circle cx="313.2" cy="601.6" r="2.6"/><circle cx="320.9" cy="601.6" r="2.5"/><circle cx="328.6" cy="601.6" r="2.4"/><circle cx="336.2" cy="601.6" r="2.4"/><circle cx="343.9" cy="601.6" r="2.3"/><circle cx="351.6" cy="601.6" r="2.2"/><circle cx="359.3" cy="601.6" r="2.1"/><circle cx="367.0" cy="601.6" r="2.0"/><circle cx="374.6" cy="601.6" r="1.9"/><circle cx="382.3" cy="601.6" r="1.8"/><circle cx="390.0" cy="601.6" r="1.7"/><circle cx="397.7" cy="601.6" r="1.6"/><circle cx="405.4" cy="601.6" r="1.4"/><circle cx="413.0" cy="601.6" r="1.3"/><circle cx="420.7" cy="601.6" r="1.1"/><circle cx="428.4" cy="601.6" r="1.0"/><circle cx="436.1" cy="601.6" r="0.8"/><circle cx="443.8" cy="601.6" r="0.7"/><circle cx="451.4" cy="601.6" r="0.5"/><circle cx="958.3" cy="601.6" r="0.5"/><circle cx="966.0" cy="601.6" r="0.6"/><circle cx="973.7" cy="601.6" r="0.7"/><circle cx="981.4" cy="601.6" r="0.8"/><circle cx="989.0" cy="601.6" r="0.9"/><circle cx="996.7" cy="601.6" r="1.1"/><circle cx="1004.4" cy="601.6" r="1.2"/><circle cx="1012.1" cy="601.6" r="1.3"/><circle cx="1019.8" cy="601.6" r="1.4"/><circle cx="1027.4" cy="601.6" r="1.5"/><circle cx="1035.1" cy="601.6" r="1.6"/><circle cx="1042.8" cy="601.6" r="1.7"/><circle cx="1050.5" cy="601.6" r="1.8"/><circle cx="1058.2" cy="601.6" r="1.9"/><circle cx="1065.8" cy="601.6" r="2.0"/><circle cx="1073.5" cy="601.6" r="2.1"/><circle cx="1081.2" cy="601.6" r="2.1"/><circle cx="1088.9" cy="601.6" r="2.2"/><circle cx="1096.6" cy="601.6" r="2.3"/><circle cx="1104.2" cy="601.6" r="2.4"/><circle cx="1111.9" cy="601.6" r="2.5"/><circle cx="1119.6" cy="601.6" r="2.5"/><circle cx="1127.3" cy="601.6" r="2.6"/><circle cx="1135.0" cy="601.6" r="2.7"/><circle cx="1142.6" cy="601.6" r="2.7"/><circle cx="1150.3" cy="601.6" r="2.8"/><circle cx="1158.0" cy="601.6" r="2.9"/><circle cx="1165.7" cy="601.6" r="3.5"/><circle cx="1173.4" cy="601.6" r="3.5"/><circle cx="1181.0" cy="601.6" r="3.5"/><circle cx="1188.7" cy="601.6" r="3.5"/><circle cx="1196.4" cy="601.6" r="3.5"/><circle cx="1204.1" cy="601.6" r="3.5"/><circle cx="1211.8" cy="601.6" r="3.6"/><circle cx="-1.7" cy="609.3" r="5.5"/><circle cx="6.0" cy="609.3" r="5.5"/><circle cx="13.7" cy="609.3" r="5.5"/><circle cx="21.4" cy="609.3" r="5.2"/><circle cx="29.0" cy="609.3" r="5.0"/><circle cx="36.7" cy="609.3" r="4.8"/><circle cx="44.4" cy="609.3" r="4.7"/><circle cx="52.1" cy="609.3" r="4.6"/><circle cx="59.8" cy="609.3" r="4.6"/><circle cx="67.4" cy="609.3" r="4.5"/><circle cx="75.1" cy="609.3" r="4.4"/><circle cx="82.8" cy="609.3" r="4.4"/><circle cx="90.5" cy="609.3" r="4.3"/><circle cx="98.2" cy="609.3" r="4.3"/><circle cx="105.8" cy="609.3" r="4.2"/><circle cx="113.5" cy="609.3" r="4.1"/><circle cx="121.2" cy="609.3" r="4.1"/><circle cx="128.9" cy="609.3" r="4.0"/><circle cx="136.6" cy="609.3" r="3.9"/><circle cx="144.2" cy="609.3" r="3.9"/><circle cx="151.9" cy="609.3" r="3.8"/><circle cx="159.6" cy="609.3" r="3.8"/><circle cx="167.3" cy="609.3" r="3.7"/><circle cx="175.0" cy="609.3" r="3.7"/><circle cx="182.6" cy="609.3" r="3.6"/><circle cx="190.3" cy="609.3" r="3.6"/><circle cx="198.0" cy="609.3" r="3.5"/><circle cx="205.7" cy="609.3" r="3.5"/><circle cx="213.4" cy="609.3" r="3.4"/><circle cx="221.0" cy="609.3" r="3.4"/><circle cx="228.7" cy="609.3" r="3.3"/><circle cx="236.4" cy="609.3" r="3.3"/><circle cx="244.1" cy="609.3" r="3.2"/><circle cx="251.8" cy="609.3" r="3.1"/><circle cx="259.4" cy="609.3" r="3.1"/><circle cx="267.1" cy="609.3" r="3.0"/><circle cx="274.8" cy="609.3" r="3.0"/><circle cx="282.5" cy="609.3" r="2.9"/><circle cx="290.2" cy="609.3" r="2.8"/><circle cx="297.8" cy="609.3" r="2.8"/><circle cx="305.5" cy="609.3" r="2.7"/><circle cx="313.2" cy="609.3" r="2.6"/><circle cx="320.9" cy="609.3" r="2.5"/><circle cx="328.6" cy="609.3" r="2.5"/><circle cx="336.2" cy="609.3" r="2.4"/><circle cx="343.9" cy="609.3" r="2.3"/><circle cx="351.6" cy="609.3" r="2.2"/><circle cx="359.3" cy="609.3" r="2.1"/><circle cx="367.0" cy="609.3" r="2.0"/><circle cx="374.6" cy="609.3" r="1.9"/><circle cx="382.3" cy="609.3" r="1.8"/><circle cx="390.0" cy="609.3" r="1.7"/><circle cx="397.7" cy="609.3" r="1.6"/><circle cx="405.4" cy="609.3" r="1.4"/><circle cx="413.0" cy="609.3" r="1.3"/><circle cx="420.7" cy="609.3" r="1.1"/><circle cx="428.4" cy="609.3" r="0.9"/><circle cx="436.1" cy="609.3" r="0.7"/><circle cx="443.8" cy="609.3" r="0.6"/><circle cx="451.4" cy="609.3" r="0.5"/><circle cx="966.0" cy="609.3" r="0.5"/><circle cx="973.7" cy="609.3" r="0.6"/><circle cx="981.4" cy="609.3" r="0.7"/><circle cx="989.0" cy="609.3" r="0.8"/><circle cx="996.7" cy="609.3" r="0.9"/><circle cx="1004.4" cy="609.3" r="1.1"/><circle cx="1012.1" cy="609.3" r="1.2"/><circle cx="1019.8" cy="609.3" r="1.3"/><circle cx="1027.4" cy="609.3" r="1.4"/><circle cx="1035.1" cy="609.3" r="1.5"/><circle cx="1042.8" cy="609.3" r="1.6"/><circle cx="1050.5" cy="609.3" r="1.7"/><circle cx="1058.2" cy="609.3" r="1.8"/><circle cx="1065.8" cy="609.3" r="1.9"/><circle cx="1073.5" cy="609.3" r="2.0"/><circle cx="1081.2" cy="609.3" r="2.1"/><circle cx="1088.9" cy="609.3" r="2.1"/><circle cx="1096.6" cy="609.3" r="2.2"/><circle cx="1104.2" cy="609.3" r="2.3"/><circle cx="1111.9" cy="609.3" r="2.4"/><circle cx="1119.6" cy="609.3" r="2.5"/><circle cx="1127.3" cy="609.3" r="2.5"/><circle cx="1135.0" cy="609.3" r="2.6"/><circle cx="1142.6" cy="609.3" r="2.7"/><circle cx="1150.3" cy="609.3" r="2.7"/><circle cx="1158.0" cy="609.3" r="2.8"/><circle cx="1165.7" cy="609.3" r="3.5"/><circle cx="1173.4" cy="609.3" r="3.5"/><circle cx="1181.0" cy="609.3" r="3.5"/><circle cx="1188.7" cy="609.3" r="3.5"/><circle cx="1196.4" cy="609.3" r="3.5"/><circle cx="1204.1" cy="609.3" r="3.5"/><circle cx="1211.8" cy="609.3" r="3.5"/><circle cx="-1.7" cy="617.0" r="5.5"/><circle cx="6.0" cy="617.0" r="5.5"/><circle cx="13.7" cy="617.0" r="5.5"/><circle cx="21.4" cy="617.0" r="5.2"/><circle cx="29.0" cy="617.0" r="5.0"/><circle cx="36.7" cy="617.0" r="4.9"/><circle cx="44.4" cy="617.0" r="4.8"/><circle cx="52.1" cy="617.0" r="4.7"/><circle cx="59.8" cy="617.0" r="4.6"/><circle cx="67.4" cy="617.0" r="4.5"/><circle cx="75.1" cy="617.0" r="4.4"/><circle cx="82.8" cy="617.0" r="4.4"/><circle cx="90.5" cy="617.0" r="4.3"/><circle cx="98.2" cy="617.0" r="4.3"/><circle cx="105.8" cy="617.0" r="4.2"/><circle cx="113.5" cy="617.0" r="4.2"/><circle cx="121.2" cy="617.0" r="4.1"/><circle cx="128.9" cy="617.0" r="4.0"/><circle cx="136.6" cy="617.0" r="4.0"/><circle cx="144.2" cy="617.0" r="3.9"/><circle cx="151.9" cy="617.0" r="3.8"/><circle cx="159.6" cy="617.0" r="3.8"/><circle cx="167.3" cy="617.0" r="3.7"/><circle cx="175.0" cy="617.0" r="3.7"/><circle cx="182.6" cy="617.0" r="3.6"/><circle cx="190.3" cy="617.0" r="3.6"/><circle cx="198.0" cy="617.0" r="3.5"/><circle cx="205.7" cy="617.0" r="3.5"/><circle cx="213.4" cy="617.0" r="3.4"/><circle cx="221.0" cy="617.0" r="3.4"/><circle cx="228.7" cy="617.0" r="3.3"/><circle cx="236.4" cy="617.0" r="3.3"/><circle cx="244.1" cy="617.0" r="3.2"/><circle cx="251.8" cy="617.0" r="3.2"/><circle cx="259.4" cy="617.0" r="3.1"/><circle cx="267.1" cy="617.0" r="3.1"/><circle cx="274.8" cy="617.0" r="3.0"/><circle cx="282.5" cy="617.0" r="2.9"/><circle cx="290.2" cy="617.0" r="2.9"/><circle cx="297.8" cy="617.0" r="2.8"/><circle cx="305.5" cy="617.0" r="2.7"/><circle cx="313.2" cy="617.0" r="2.6"/><circle cx="320.9" cy="617.0" r="2.5"/><circle cx="328.6" cy="617.0" r="2.5"/><circle cx="336.2" cy="617.0" r="2.4"/><circle cx="343.9" cy="617.0" r="2.3"/><circle cx="351.6" cy="617.0" r="2.2"/><circle cx="359.3" cy="617.0" r="2.1"/><circle cx="367.0" cy="617.0" r="2.0"/><circle cx="374.6" cy="617.0" r="1.9"/><circle cx="382.3" cy="617.0" r="1.8"/><circle cx="390.0" cy="617.0" r="1.7"/><circle cx="397.7" cy="617.0" r="1.5"/><circle cx="405.4" cy="617.0" r="1.4"/><circle cx="413.0" cy="617.0" r="1.2"/><circle cx="420.7" cy="617.0" r="1.1"/><circle cx="428.4" cy="617.0" r="0.8"/><circle cx="436.1" cy="617.0" r="0.6"/><circle cx="443.8" cy="617.0" r="0.5"/><circle cx="973.7" cy="617.0" r="0.5"/><circle cx="981.4" cy="617.0" r="0.6"/><circle cx="989.0" cy="617.0" r="0.7"/><circle cx="996.7" cy="617.0" r="0.8"/><circle cx="1004.4" cy="617.0" r="0.9"/><circle cx="1012.1" cy="617.0" r="1.1"/><circle cx="1019.8" cy="617.0" r="1.2"/><circle cx="1027.4" cy="617.0" r="1.3"/><circle cx="1035.1" cy="617.0" r="1.4"/><circle cx="1042.8" cy="617.0" r="1.5"/><circle cx="1050.5" cy="617.0" r="1.6"/><circle cx="1058.2" cy="617.0" r="1.7"/><circle cx="1065.8" cy="617.0" r="1.8"/><circle cx="1073.5" cy="617.0" r="1.9"/><circle cx="1081.2" cy="617.0" r="2.0"/><circle cx="1088.9" cy="617.0" r="2.0"/><circle cx="1096.6" cy="617.0" r="2.1"/><circle cx="1104.2" cy="617.0" r="2.2"/><circle cx="1111.9" cy="617.0" r="2.3"/><circle cx="1119.6" cy="617.0" r="2.4"/><circle cx="1127.3" cy="617.0" r="2.4"/><circle cx="1135.0" cy="617.0" r="2.5"/><circle cx="1142.6" cy="617.0" r="2.6"/><circle cx="1150.3" cy="617.0" r="2.7"/><circle cx="1158.0" cy="617.0" r="2.7"/><circle cx="1165.7" cy="617.0" r="3.4"/><circle cx="1173.4" cy="617.0" r="3.4"/><circle cx="1181.0" cy="617.0" r="3.4"/><circle cx="1188.7" cy="617.0" r="3.4"/><circle cx="1196.4" cy="617.0" r="3.4"/><circle cx="1204.1" cy="617.0" r="3.4"/><circle cx="1211.8" cy="617.0" r="3.4"/><circle cx="-1.7" cy="624.7" r="5.5"/><circle cx="6.0" cy="624.7" r="5.5"/><circle cx="13.7" cy="624.7" r="5.5"/><circle cx="21.4" cy="624.7" r="5.2"/><circle cx="29.0" cy="624.7" r="5.0"/><circle cx="36.7" cy="624.7" r="4.9"/><circle cx="44.4" cy="624.7" r="4.8"/><circle cx="52.1" cy="624.7" r="4.7"/><circle cx="59.8" cy="624.7" r="4.6"/><circle cx="67.4" cy="624.7" r="4.5"/><circle cx="75.1" cy="624.7" r="4.5"/><circle cx="82.8" cy="624.7" r="4.4"/><circle cx="90.5" cy="624.7" r="4.4"/><circle cx="98.2" cy="624.7" r="4.3"/><circle cx="105.8" cy="624.7" r="4.3"/><circle cx="113.5" cy="624.7" r="4.2"/><circle cx="121.2" cy="624.7" r="4.1"/><circle cx="128.9" cy="624.7" r="4.1"/><circle cx="136.6" cy="624.7" r="4.0"/><circle cx="144.2" cy="624.7" r="3.9"/><circle cx="151.9" cy="624.7" r="3.9"/><circle cx="159.6" cy="624.7" r="3.8"/><circle cx="167.3" cy="624.7" r="3.8"/><circle cx="175.0" cy="624.7" r="3.7"/><circle cx="182.6" cy="624.7" r="3.7"/><circle cx="190.3" cy="624.7" r="3.6"/><circle cx="198.0" cy="624.7" r="3.6"/><circle cx="205.7" cy="624.7" r="3.5"/><circle cx="213.4" cy="624.7" r="3.5"/><circle cx="221.0" cy="624.7" r="3.4"/><circle cx="228.7" cy="624.7" r="3.4"/><circle cx="236.4" cy="624.7" r="3.3"/><circle cx="244.1" cy="624.7" r="3.2"/><circle cx="251.8" cy="624.7" r="3.2"/><circle cx="259.4" cy="624.7" r="3.1"/><circle cx="267.1" cy="624.7" r="3.1"/><circle cx="274.8" cy="624.7" r="3.0"/><circle cx="282.5" cy="624.7" r="2.9"/><circle cx="290.2" cy="624.7" r="2.9"/><circle cx="297.8" cy="624.7" r="2.8"/><circle cx="305.5" cy="624.7" r="2.7"/><circle cx="313.2" cy="624.7" r="2.6"/><circle cx="320.9" cy="624.7" r="2.6"/><circle cx="328.6" cy="624.7" r="2.5"/><circle cx="336.2" cy="624.7" r="2.4"/><circle cx="343.9" cy="624.7" r="2.3"/><circle cx="351.6" cy="624.7" r="2.2"/><circle cx="359.3" cy="624.7" r="2.1"/><circle cx="367.0" cy="624.7" r="2.0"/><circle cx="374.6" cy="624.7" r="1.9"/><circle cx="382.3" cy="624.7" r="1.8"/><circle cx="390.0" cy="624.7" r="1.7"/><circle cx="397.7" cy="624.7" r="1.5"/><circle cx="405.4" cy="624.7" r="1.4"/><circle cx="413.0" cy="624.7" r="1.2"/><circle cx="420.7" cy="624.7" r="1.0"/><circle cx="428.4" cy="624.7" r="0.8"/><circle cx="436.1" cy="624.7" r="0.5"/><circle cx="981.4" cy="624.7" r="0.5"/><circle cx="989.0" cy="624.7" r="0.6"/><circle cx="996.7" cy="624.7" r="0.7"/><circle cx="1004.4" cy="624.7" r="0.8"/><circle cx="1012.1" cy="624.7" r="0.9"/><circle cx="1019.8" cy="624.7" r="1.0"/><circle cx="1027.4" cy="624.7" r="1.2"/><circle cx="1035.1" cy="624.7" r="1.3"/><circle cx="1042.8" cy="624.7" r="1.4"/><circle cx="1050.5" cy="624.7" r="1.5"/><circle cx="1058.2" cy="624.7" r="1.6"/><circle cx="1065.8" cy="624.7" r="1.7"/><circle cx="1073.5" cy="624.7" r="1.8"/><circle cx="1081.2" cy="624.7" r="1.9"/><circle cx="1088.9" cy="624.7" r="2.0"/><circle cx="1096.6" cy="624.7" r="2.0"/><circle cx="1104.2" cy="624.7" r="2.1"/><circle cx="1111.9" cy="624.7" r="2.2"/><circle cx="1119.6" cy="624.7" r="2.3"/><circle cx="1127.3" cy="624.7" r="2.4"/><circle cx="1135.0" cy="624.7" r="2.4"/><circle cx="1142.6" cy="624.7" r="2.5"/><circle cx="1150.3" cy="624.7" r="2.6"/><circle cx="1158.0" cy="624.7" r="2.7"/><circle cx="1165.7" cy="624.7" r="3.4"/><circle cx="1173.4" cy="624.7" r="3.4"/><circle cx="1181.0" cy="624.7" r="3.4"/><circle cx="1188.7" cy="624.7" r="3.4"/><circle cx="1196.4" cy="624.7" r="3.4"/><circle cx="1204.1" cy="624.7" r="3.4"/><circle cx="1211.8" cy="624.7" r="3.4"/><circle cx="-1.7" cy="632.4" r="5.5"/><circle cx="6.0" cy="632.4" r="5.5"/><circle cx="13.7" cy="632.4" r="5.5"/><circle cx="21.4" cy="632.4" r="5.2"/><circle cx="29.0" cy="632.4" r="5.0"/><circle cx="36.7" cy="632.4" r="4.9"/><circle cx="44.4" cy="632.4" r="4.8"/><circle cx="52.1" cy="632.4" r="4.7"/><circle cx="59.8" cy="632.4" r="4.6"/><circle cx="67.4" cy="632.4" r="4.6"/><circle cx="75.1" cy="632.4" r="4.5"/><circle cx="82.8" cy="632.4" r="4.4"/><circle cx="90.5" cy="632.4" r="4.4"/><circle cx="98.2" cy="632.4" r="4.3"/><circle cx="105.8" cy="632.4" r="4.3"/><circle cx="113.5" cy="632.4" r="4.2"/><circle cx="121.2" cy="632.4" r="4.2"/><circle cx="128.9" cy="632.4" r="4.1"/><circle cx="136.6" cy="632.4" r="4.0"/><circle cx="144.2" cy="632.4" r="3.9"/><circle cx="151.9" cy="632.4" r="3.9"/><circle cx="159.6" cy="632.4" r="3.8"/><circle cx="167.3" cy="632.4" r="3.8"/><circle cx="175.0" cy="632.4" r="3.7"/><circle cx="182.6" cy="632.4" r="3.7"/><circle cx="190.3" cy="632.4" r="3.6"/><circle cx="198.0" cy="632.4" r="3.6"/><circle cx="205.7" cy="632.4" r="3.5"/><circle cx="213.4" cy="632.4" r="3.5"/><circle cx="221.0" cy="632.4" r="3.4"/><circle cx="228.7" cy="632.4" r="3.4"/><circle cx="236.4" cy="632.4" r="3.3"/><circle cx="244.1" cy="632.4" r="3.3"/><circle cx="251.8" cy="632.4" r="3.2"/><circle cx="259.4" cy="632.4" r="3.2"/><circle cx="267.1" cy="632.4" r="3.1"/><circle cx="274.8" cy="632.4" r="3.0"/><circle cx="282.5" cy="632.4" r="3.0"/><circle cx="290.2" cy="632.4" r="2.9"/><circle cx="297.8" cy="632.4" r="2.8"/><circle cx="305.5" cy="632.4" r="2.7"/><circle cx="313.2" cy="632.4" r="2.7"/><circle cx="320.9" cy="632.4" r="2.6"/><circle cx="328.6" cy="632.4" r="2.5"/><circle cx="336.2" cy="632.4" r="2.4"/><circle cx="343.9" cy="632.4" r="2.3"/><circle cx="351.6" cy="632.4" r="2.2"/><circle cx="359.3" cy="632.4" r="2.1"/><circle cx="367.0" cy="632.4" r="2.0"/><circle cx="374.6" cy="632.4" r="1.9"/><circle cx="382.3" cy="632.4" r="1.8"/><circle cx="390.0" cy="632.4" r="1.6"/><circle cx="397.7" cy="632.4" r="1.5"/><circle cx="405.4" cy="632.4" r="1.3"/><circle cx="413.0" cy="632.4" r="1.2"/><circle cx="420.7" cy="632.4" r="1.0"/><circle cx="428.4" cy="632.4" r="0.7"/><circle cx="989.0" cy="632.4" r="0.5"/><circle cx="996.7" cy="632.4" r="0.6"/><circle cx="1004.4" cy="632.4" r="0.7"/><circle cx="1012.1" cy="632.4" r="0.8"/><circle cx="1019.8" cy="632.4" r="0.9"/><circle cx="1027.4" cy="632.4" r="1.0"/><circle cx="1035.1" cy="632.4" r="1.2"/><circle cx="1042.8" cy="632.4" r="1.3"/><circle cx="1050.5" cy="632.4" r="1.4"/><circle cx="1058.2" cy="632.4" r="1.5"/><circle cx="1065.8" cy="632.4" r="1.6"/><circle cx="1073.5" cy="632.4" r="1.7"/><circle cx="1081.2" cy="632.4" r="1.8"/><circle cx="1088.9" cy="632.4" r="1.9"/><circle cx="1096.6" cy="632.4" r="1.9"/><circle cx="1104.2" cy="632.4" r="2.0"/><circle cx="1111.9" cy="632.4" r="2.1"/><circle cx="1119.6" cy="632.4" r="2.2"/><circle cx="1127.3" cy="632.4" r="2.3"/><circle cx="1135.0" cy="632.4" r="2.4"/><circle cx="1142.6" cy="632.4" r="2.4"/><circle cx="1150.3" cy="632.4" r="2.5"/><circle cx="1158.0" cy="632.4" r="2.6"/><circle cx="1165.7" cy="632.4" r="3.3"/><circle cx="1173.4" cy="632.4" r="3.3"/><circle cx="1181.0" cy="632.4" r="3.3"/><circle cx="1188.7" cy="632.4" r="3.3"/><circle cx="1196.4" cy="632.4" r="3.3"/><circle cx="1204.1" cy="632.4" r="3.3"/><circle cx="1211.8" cy="632.4" r="3.3"/><circle cx="-1.7" cy="640.0" r="5.5"/><circle cx="6.0" cy="640.0" r="5.5"/><circle cx="13.7" cy="640.0" r="5.5"/><circle cx="21.4" cy="640.0" r="5.3"/><circle cx="29.0" cy="640.0" r="5.1"/><circle cx="36.7" cy="640.0" r="4.9"/><circle cx="44.4" cy="640.0" r="4.8"/><circle cx="52.1" cy="640.0" r="4.7"/><circle cx="59.8" cy="640.0" r="4.7"/><circle cx="67.4" cy="640.0" r="4.6"/><circle cx="75.1" cy="640.0" r="4.5"/><circle cx="82.8" cy="640.0" r="4.5"/><circle cx="90.5" cy="640.0" r="4.4"/><circle cx="98.2" cy="640.0" r="4.4"/><circle cx="105.8" cy="640.0" r="4.3"/><circle cx="113.5" cy="640.0" r="4.3"/><circle cx="121.2" cy="640.0" r="4.2"/><circle cx="128.9" cy="640.0" r="4.1"/><circle cx="136.6" cy="640.0" r="4.0"/><circle cx="144.2" cy="640.0" r="4.0"/><circle cx="151.9" cy="640.0" r="3.9"/><circle cx="159.6" cy="640.0" r="3.9"/><circle cx="167.3" cy="640.0" r="3.8"/><circle cx="175.0" cy="640.0" r="3.8"/><circle cx="182.6" cy="640.0" r="3.7"/><circle cx="190.3" cy="640.0" r="3.7"/><circle cx="198.0" cy="640.0" r="3.6"/><circle cx="205.7" cy="640.0" r="3.6"/><circle cx="213.4" cy="640.0" r="3.5"/><circle cx="221.0" cy="640.0" r="3.5"/><circle cx="228.7" cy="640.0" r="3.4"/><circle cx="236.4" cy="640.0" r="3.3"/><circle cx="244.1" cy="640.0" r="3.3"/><circle cx="251.8" cy="640.0" r="3.2"/><circle cx="259.4" cy="640.0" r="3.2"/><circle cx="267.1" cy="640.0" r="3.1"/><circle cx="274.8" cy="640.0" r="3.1"/><circle cx="282.5" cy="640.0" r="3.0"/><circle cx="290.2" cy="640.0" r="2.9"/><circle cx="297.8" cy="640.0" r="2.8"/><circle cx="305.5" cy="640.0" r="2.8"/><circle cx="313.2" cy="640.0" r="2.7"/><circle cx="320.9" cy="640.0" r="2.6"/><circle cx="328.6" cy="640.0" r="2.5"/><circle cx="336.2" cy="640.0" r="2.4"/><circle cx="343.9" cy="640.0" r="2.3"/><circle cx="351.6" cy="640.0" r="2.2"/><circle cx="359.3" cy="640.0" r="2.1"/><circle cx="367.0" cy="640.0" r="2.0"/><circle cx="374.6" cy="640.0" r="1.9"/><circle cx="382.3" cy="640.0" r="1.8"/><circle cx="390.0" cy="640.0" r="1.6"/><circle cx="397.7" cy="640.0" r="1.5"/><circle cx="405.4" cy="640.0" r="1.3"/><circle cx="413.0" cy="640.0" r="1.1"/><circle cx="420.7" cy="640.0" r="0.9"/><circle cx="428.4" cy="640.0" r="0.6"/><circle cx="996.7" cy="640.0" r="0.5"/><circle cx="1004.4" cy="640.0" r="0.6"/><circle cx="1012.1" cy="640.0" r="0.7"/><circle cx="1019.8" cy="640.0" r="0.8"/><circle cx="1027.4" cy="640.0" r="0.9"/><circle cx="1035.1" cy="640.0" r="1.0"/><circle cx="1042.8" cy="640.0" r="1.2"/><circle cx="1050.5" cy="640.0" r="1.3"/><circle cx="1058.2" cy="640.0" r="1.4"/><circle cx="1065.8" cy="640.0" r="1.5"/><circle cx="1073.5" cy="640.0" r="1.6"/><circle cx="1081.2" cy="640.0" r="1.7"/><circle cx="1088.9" cy="640.0" r="1.8"/><circle cx="1096.6" cy="640.0" r="1.9"/><circle cx="1104.2" cy="640.0" r="1.9"/><circle cx="1111.9" cy="640.0" r="2.0"/><circle cx="1119.6" cy="640.0" r="2.1"/><circle cx="1127.3" cy="640.0" r="2.2"/><circle cx="1135.0" cy="640.0" r="2.3"/><circle cx="1142.6" cy="640.0" r="2.4"/><circle cx="1150.3" cy="640.0" r="2.4"/><circle cx="1158.0" cy="640.0" r="2.5"/><circle cx="1165.7" cy="640.0" r="3.3"/><circle cx="1173.4" cy="640.0" r="3.3"/><circle cx="1181.0" cy="640.0" r="3.3"/><circle cx="1188.7" cy="640.0" r="3.3"/><circle cx="1196.4" cy="640.0" r="3.3"/><circle cx="1204.1" cy="640.0" r="3.3"/><circle cx="1211.8" cy="640.0" r="3.3"/><circle cx="-1.7" cy="647.7" r="5.5"/><circle cx="6.0" cy="647.7" r="5.5"/><circle cx="13.7" cy="647.7" r="5.5"/><circle cx="21.4" cy="647.7" r="5.3"/><circle cx="29.0" cy="647.7" r="5.2"/><circle cx="36.7" cy="647.7" r="5.0"/><circle cx="44.4" cy="647.7" r="4.9"/><circle cx="52.1" cy="647.7" r="4.8"/><circle cx="59.8" cy="647.7" r="4.7"/><circle cx="67.4" cy="647.7" r="4.7"/><circle cx="75.1" cy="647.7" r="4.6"/><circle cx="82.8" cy="647.7" r="4.6"/><circle cx="90.5" cy="647.7" r="4.5"/><circle cx="98.2" cy="647.7" r="4.5"/><circle cx="105.8" cy="647.7" r="4.4"/><circle cx="113.5" cy="647.7" r="4.4"/><circle cx="121.2" cy="647.7" r="4.3"/><circle cx="128.9" cy="647.7" r="4.3"/><circle cx="136.6" cy="647.7" r="4.2"/><circle cx="144.2" cy="647.7" r="4.1"/><circle cx="151.9" cy="647.7" r="4.0"/><circle cx="159.6" cy="647.7" r="4.0"/><circle cx="167.3" cy="647.7" r="3.9"/><circle cx="175.0" cy="647.7" r="3.8"/><circle cx="182.6" cy="647.7" r="3.8"/><circle cx="190.3" cy="647.7" r="3.7"/><circle cx="198.0" cy="647.7" r="3.7"/><circle cx="205.7" cy="647.7" r="3.6"/><circle cx="213.4" cy="647.7" r="3.6"/><circle cx="221.0" cy="647.7" r="3.5"/><circle cx="228.7" cy="647.7" r="3.5"/><circle cx="236.4" cy="647.7" r="3.4"/><circle cx="244.1" cy="647.7" r="3.4"/><circle cx="251.8" cy="647.7" r="3.3"/><circle cx="259.4" cy="647.7" r="3.2"/><circle cx="267.1" cy="647.7" r="3.2"/><circle cx="274.8" cy="647.7" r="3.1"/><circle cx="282.5" cy="647.7" r="3.0"/><circle cx="290.2" cy="647.7" r="3.0"/><circle cx="297.8" cy="647.7" r="2.9"/><circle cx="305.5" cy="647.7" r="2.8"/><circle cx="313.2" cy="647.7" r="2.7"/><circle cx="320.9" cy="647.7" r="2.6"/><circle cx="328.6" cy="647.7" r="2.5"/><circle cx="336.2" cy="647.7" r="2.4"/><circle cx="343.9" cy="647.7" r="2.3"/><circle cx="351.6" cy="647.7" r="2.2"/><circle cx="359.3" cy="647.7" r="2.1"/><circle cx="367.0" cy="647.7" r="2.0"/><circle cx="374.6" cy="647.7" r="1.9"/><circle cx="382.3" cy="647.7" r="1.7"/><circle cx="390.0" cy="647.7" r="1.6"/><circle cx="397.7" cy="647.7" r="1.4"/><circle cx="405.4" cy="647.7" r="1.3"/><circle cx="413.0" cy="647.7" r="1.1"/><circle cx="420.7" cy="647.7" r="0.8"/><circle cx="428.4" cy="647.7" r="0.5"/><circle cx="1004.4" cy="647.7" r="0.5"/><circle cx="1012.1" cy="647.7" r="0.6"/><circle cx="1019.8" cy="647.7" r="0.7"/><circle cx="1027.4" cy="647.7" r="0.8"/><circle cx="1035.1" cy="647.7" r="0.9"/><circle cx="1042.8" cy="647.7" r="1.0"/><circle cx="1050.5" cy="647.7" r="1.2"/><circle cx="1058.2" cy="647.7" r="1.3"/><circle cx="1065.8" cy="647.7" r="1.4"/><circle cx="1073.5" cy="647.7" r="1.5"/><circle cx="1081.2" cy="647.7" r="1.6"/><circle cx="1088.9" cy="647.7" r="1.6"/><circle cx="1096.6" cy="647.7" r="1.7"/><circle cx="1104.2" cy="647.7" r="1.8"/><circle cx="1111.9" cy="647.7" r="1.9"/><circle cx="1119.6" cy="647.7" r="2.0"/><circle cx="1127.3" cy="647.7" r="2.1"/><circle cx="1135.0" cy="647.7" r="2.2"/><circle cx="1142.6" cy="647.7" r="2.3"/><circle cx="1150.3" cy="647.7" r="2.4"/><circle cx="1158.0" cy="647.7" r="2.4"/><circle cx="1165.7" cy="647.7" r="3.2"/><circle cx="1173.4" cy="647.7" r="3.2"/><circle cx="1181.0" cy="647.7" r="3.2"/><circle cx="1188.7" cy="647.7" r="3.2"/><circle cx="1196.4" cy="647.7" r="3.2"/><circle cx="1204.1" cy="647.7" r="3.2"/><circle cx="1211.8" cy="647.7" r="3.2"/><circle cx="-1.7" cy="655.4" r="5.5"/><circle cx="6.0" cy="655.4" r="5.5"/><circle cx="13.7" cy="655.4" r="5.5"/><circle cx="21.4" cy="655.4" r="5.5"/><circle cx="29.0" cy="655.4" r="5.5"/><circle cx="36.7" cy="655.4" r="5.0"/><circle cx="44.4" cy="655.4" r="5.0"/><circle cx="52.1" cy="655.4" r="4.9"/><circle cx="59.8" cy="655.4" r="4.8"/><circle cx="67.4" cy="655.4" r="4.8"/><circle cx="75.1" cy="655.4" r="4.7"/><circle cx="82.8" cy="655.4" r="4.7"/><circle cx="90.5" cy="655.4" r="4.7"/><circle cx="98.2" cy="655.4" r="4.6"/><circle cx="105.8" cy="655.4" r="4.6"/><circle cx="113.5" cy="655.4" r="4.5"/><circle cx="121.2" cy="655.4" r="4.5"/><circle cx="128.9" cy="655.4" r="4.4"/><circle cx="136.6" cy="655.4" r="4.3"/><circle cx="144.2" cy="655.4" r="4.2"/><circle cx="151.9" cy="655.4" r="4.1"/><circle cx="159.6" cy="655.4" r="4.1"/><circle cx="167.3" cy="655.4" r="4.0"/><circle cx="175.0" cy="655.4" r="3.9"/><circle cx="182.6" cy="655.4" r="3.9"/><circle cx="190.3" cy="655.4" r="3.8"/><circle cx="198.0" cy="655.4" r="3.8"/><circle cx="205.7" cy="655.4" r="3.7"/><circle cx="213.4" cy="655.4" r="3.7"/><circle cx="221.0" cy="655.4" r="3.6"/><circle cx="228.7" cy="655.4" r="3.6"/><circle cx="236.4" cy="655.4" r="3.5"/><circle cx="244.1" cy="655.4" r="3.4"/><circle cx="251.8" cy="655.4" r="3.4"/><circle cx="259.4" cy="655.4" r="3.3"/><circle cx="267.1" cy="655.4" r="3.2"/><circle cx="274.8" cy="655.4" r="3.2"/><circle cx="282.5" cy="655.4" r="3.1"/><circle cx="290.2" cy="655.4" r="3.0"/><circle cx="297.8" cy="655.4" r="2.9"/><circle cx="305.5" cy="655.4" r="2.9"/><circle cx="313.2" cy="655.4" r="2.8"/><circle cx="320.9" cy="655.4" r="2.7"/><circle cx="328.6" cy="655.4" r="2.6"/><circle cx="336.2" cy="655.4" r="2.5"/><circle cx="343.9" cy="655.4" r="2.4"/><circle cx="351.6" cy="655.4" r="2.3"/><circle cx="359.3" cy="655.4" r="2.1"/><circle cx="367.0" cy="655.4" r="2.0"/><circle cx="374.6" cy="655.4" r="1.9"/><circle cx="382.3" cy="655.4" r="1.7"/><circle cx="390.0" cy="655.4" r="1.6"/><circle cx="397.7" cy="655.4" r="1.4"/><circle cx="405.4" cy="655.4" r="1.2"/><circle cx="413.0" cy="655.4" r="1.0"/><circle cx="420.7" cy="655.4" r="0.7"/><circle cx="428.4" cy="655.4" r="0.5"/><circle cx="1012.1" cy="655.4" r="0.5"/><circle cx="1019.8" cy="655.4" r="0.6"/><circle cx="1027.4" cy="655.4" r="0.7"/><circle cx="1035.1" cy="655.4" r="0.8"/><circle cx="1042.8" cy="655.4" r="0.9"/><circle cx="1050.5" cy="655.4" r="1.0"/><circle cx="1058.2" cy="655.4" r="1.2"/><circle cx="1065.8" cy="655.4" r="1.3"/><circle cx="1073.5" cy="655.4" r="1.4"/><circle cx="1081.2" cy="655.4" r="1.5"/><circle cx="1088.9" cy="655.4" r="1.6"/><circle cx="1096.6" cy="655.4" r="1.6"/><circle cx="1104.2" cy="655.4" r="1.7"/><circle cx="1111.9" cy="655.4" r="1.8"/><circle cx="1119.6" cy="655.4" r="1.9"/><circle cx="1127.3" cy="655.4" r="2.0"/><circle cx="1135.0" cy="655.4" r="2.1"/><circle cx="1142.6" cy="655.4" r="2.2"/><circle cx="1150.3" cy="655.4" r="2.3"/><circle cx="1158.0" cy="655.4" r="2.4"/><circle cx="1165.7" cy="655.4" r="3.2"/><circle cx="1173.4" cy="655.4" r="3.2"/><circle cx="1181.0" cy="655.4" r="3.2"/><circle cx="1188.7" cy="655.4" r="3.2"/><circle cx="1196.4" cy="655.4" r="3.2"/><circle cx="1204.1" cy="655.4" r="3.2"/><circle cx="1211.8" cy="655.4" r="3.2"/><circle cx="-1.7" cy="663.1" r="5.5"/><circle cx="6.0" cy="663.1" r="5.5"/><circle cx="13.7" cy="663.1" r="5.5"/><circle cx="21.4" cy="663.1" r="5.5"/><circle cx="29.0" cy="663.1" r="5.5"/><circle cx="36.7" cy="663.1" r="5.1"/><circle cx="44.4" cy="663.1" r="5.1"/><circle cx="52.1" cy="663.1" r="5.0"/><circle cx="59.8" cy="663.1" r="5.0"/><circle cx="67.4" cy="663.1" r="4.9"/><circle cx="75.1" cy="663.1" r="4.9"/><circle cx="82.8" cy="663.1" r="4.9"/><circle cx="90.5" cy="663.1" r="4.8"/><circle cx="98.2" cy="663.1" r="4.8"/><circle cx="105.8" cy="663.1" r="4.8"/><circle cx="113.5" cy="663.1" r="4.7"/><circle cx="121.2" cy="663.1" r="4.7"/><circle cx="128.9" cy="663.1" r="4.6"/><circle cx="136.6" cy="663.1" r="4.5"/><circle cx="144.2" cy="663.1" r="4.4"/><circle cx="151.9" cy="663.1" r="4.3"/><circle cx="159.6" cy="663.1" r="4.2"/><circle cx="167.3" cy="663.1" r="4.1"/><circle cx="175.0" cy="663.1" r="4.1"/><circle cx="182.6" cy="663.1" r="4.0"/><circle cx="190.3" cy="663.1" r="3.9"/><circle cx="198.0" cy="663.1" r="3.9"/><circle cx="205.7" cy="663.1" r="3.8"/><circle cx="213.4" cy="663.1" r="3.8"/><circle cx="221.0" cy="663.1" r="3.7"/><circle cx="228.7" cy="663.1" r="3.6"/><circle cx="236.4" cy="663.1" r="3.6"/><circle cx="244.1" cy="663.1" r="3.5"/><circle cx="251.8" cy="663.1" r="3.4"/><circle cx="259.4" cy="663.1" r="3.4"/><circle cx="267.1" cy="663.1" r="3.3"/><circle cx="274.8" cy="663.1" r="3.2"/><circle cx="282.5" cy="663.1" r="3.2"/><circle cx="290.2" cy="663.1" r="3.1"/><circle cx="297.8" cy="663.1" r="3.0"/><circle cx="305.5" cy="663.1" r="2.9"/><circle cx="313.2" cy="663.1" r="2.8"/><circle cx="320.9" cy="663.1" r="2.7"/><circle cx="328.6" cy="663.1" r="2.6"/><circle cx="336.2" cy="663.1" r="2.5"/><circle cx="343.9" cy="663.1" r="2.4"/><circle cx="351.6" cy="663.1" r="2.3"/><circle cx="359.3" cy="663.1" r="2.2"/><circle cx="367.0" cy="663.1" r="2.0"/><circle cx="374.6" cy="663.1" r="1.9"/><circle cx="382.3" cy="663.1" r="1.7"/><circle cx="390.0" cy="663.1" r="1.6"/><circle cx="397.7" cy="663.1" r="1.4"/><circle cx="405.4" cy="663.1" r="1.2"/><circle cx="413.0" cy="663.1" r="0.9"/><circle cx="420.7" cy="663.1" r="0.5"/><circle cx="1019.8" cy="663.1" r="0.5"/><circle cx="1027.4" cy="663.1" r="0.6"/><circle cx="1035.1" cy="663.1" r="0.7"/><circle cx="1042.8" cy="663.1" r="0.8"/><circle cx="1050.5" cy="663.1" r="0.9"/><circle cx="1058.2" cy="663.1" r="1.0"/><circle cx="1065.8" cy="663.1" r="1.1"/><circle cx="1073.5" cy="663.1" r="1.3"/><circle cx="1081.2" cy="663.1" r="1.4"/><circle cx="1088.9" cy="663.1" r="1.5"/><circle cx="1096.6" cy="663.1" r="1.6"/><circle cx="1104.2" cy="663.1" r="1.6"/><circle cx="1111.9" cy="663.1" r="1.7"/><circle cx="1119.6" cy="663.1" r="1.8"/><circle cx="1127.3" cy="663.1" r="1.9"/><circle cx="1135.0" cy="663.1" r="2.0"/><circle cx="1142.6" cy="663.1" r="2.1"/><circle cx="1150.3" cy="663.1" r="2.2"/><circle cx="1158.0" cy="663.1" r="2.3"/><circle cx="1165.7" cy="663.1" r="3.1"/><circle cx="1173.4" cy="663.1" r="3.1"/><circle cx="1181.0" cy="663.1" r="3.1"/><circle cx="1188.7" cy="663.1" r="3.1"/><circle cx="1196.4" cy="663.1" r="3.1"/><circle cx="1204.1" cy="663.1" r="3.1"/><circle cx="1211.8" cy="663.1" r="3.1"/><circle cx="-1.7" cy="670.8" r="5.5"/><circle cx="6.0" cy="670.8" r="5.5"/><circle cx="13.7" cy="670.8" r="5.5"/><circle cx="21.4" cy="670.8" r="5.5"/><circle cx="29.0" cy="670.8" r="5.5"/><circle cx="36.7" cy="670.8" r="5.3"/><circle cx="44.4" cy="670.8" r="5.2"/><circle cx="52.1" cy="670.8" r="5.2"/><circle cx="59.8" cy="670.8" r="5.2"/><circle cx="67.4" cy="670.8" r="5.1"/><circle cx="75.1" cy="670.8" r="5.1"/><circle cx="82.8" cy="670.8" r="5.1"/><circle cx="90.5" cy="670.8" r="5.1"/><circle cx="98.2" cy="670.8" r="5.0"/><circle cx="105.8" cy="670.8" r="5.0"/><circle cx="113.5" cy="670.8" r="5.0"/><circle cx="121.2" cy="670.8" r="5.0"/><circle cx="128.9" cy="670.8" r="5.0"/><circle cx="136.6" cy="670.8" r="4.8"/><circle cx="144.2" cy="670.8" r="4.6"/><circle cx="151.9" cy="670.8" r="4.5"/><circle cx="159.6" cy="670.8" r="4.4"/><circle cx="167.3" cy="670.8" r="4.3"/><circle cx="175.0" cy="670.8" r="4.2"/><circle cx="182.6" cy="670.8" r="4.1"/><circle cx="190.3" cy="670.8" r="4.1"/><circle cx="198.0" cy="670.8" r="4.0"/><circle cx="205.7" cy="670.8" r="3.9"/><circle cx="213.4" cy="670.8" r="3.8"/><circle cx="221.0" cy="670.8" r="3.8"/><circle cx="228.7" cy="670.8" r="3.7"/><circle cx="236.4" cy="670.8" r="3.6"/><circle cx="244.1" cy="670.8" r="3.6"/><circle cx="251.8" cy="670.8" r="3.5"/><circle cx="259.4" cy="670.8" r="3.4"/><circle cx="267.1" cy="670.8" r="3.4"/><circle cx="274.8" cy="670.8" r="3.3"/><circle cx="282.5" cy="670.8" r="3.2"/><circle cx="290.2" cy="670.8" r="3.1"/><circle cx="297.8" cy="670.8" r="3.1"/><circle cx="305.5" cy="670.8" r="3.0"/><circle cx="313.2" cy="670.8" r="2.9"/><circle cx="320.9" cy="670.8" r="2.8"/><circle cx="328.6" cy="670.8" r="2.7"/><circle cx="336.2" cy="670.8" r="2.5"/><circle cx="343.9" cy="670.8" r="2.4"/><circle cx="351.6" cy="670.8" r="2.3"/><circle cx="359.3" cy="670.8" r="2.2"/><circle cx="367.0" cy="670.8" r="2.0"/><circle cx="374.6" cy="670.8" r="1.9"/><circle cx="382.3" cy="670.8" r="1.7"/><circle cx="390.0" cy="670.8" r="1.5"/><circle cx="397.7" cy="670.8" r="1.3"/><circle cx="405.4" cy="670.8" r="1.1"/><circle cx="413.0" cy="670.8" r="0.8"/><circle cx="1027.4" cy="670.8" r="0.5"/><circle cx="1035.1" cy="670.8" r="0.6"/><circle cx="1042.8" cy="670.8" r="0.7"/><circle cx="1050.5" cy="670.8" r="0.8"/><circle cx="1058.2" cy="670.8" r="0.9"/><circle cx="1065.8" cy="670.8" r="1.0"/><circle cx="1073.5" cy="670.8" r="1.1"/><circle cx="1081.2" cy="670.8" r="1.3"/><circle cx="1088.9" cy="670.8" r="1.4"/><circle cx="1096.6" cy="670.8" r="1.5"/><circle cx="1104.2" cy="670.8" r="1.6"/><circle cx="1111.9" cy="670.8" r="1.6"/><circle cx="1119.6" cy="670.8" r="1.7"/><circle cx="1127.3" cy="670.8" r="1.8"/><circle cx="1135.0" cy="670.8" r="1.9"/><circle cx="1142.6" cy="670.8" r="2.0"/><circle cx="1150.3" cy="670.8" r="2.1"/><circle cx="1158.0" cy="670.8" r="2.2"/><circle cx="1165.7" cy="670.8" r="3.0"/><circle cx="1173.4" cy="670.8" r="3.0"/><circle cx="1181.0" cy="670.8" r="3.0"/><circle cx="1188.7" cy="670.8" r="3.0"/><circle cx="1196.4" cy="670.8" r="3.0"/><circle cx="1204.1" cy="670.8" r="3.0"/><circle cx="1211.8" cy="670.8" r="3.0"/><circle cx="-1.7" cy="678.4" r="5.5"/><circle cx="6.0" cy="678.4" r="5.5"/><circle cx="13.7" cy="678.4" r="5.5"/><circle cx="21.4" cy="678.4" r="5.5"/><circle cx="29.0" cy="678.4" r="5.5"/><circle cx="36.7" cy="678.4" r="5.5"/><circle cx="44.4" cy="678.4" r="5.5"/><circle cx="52.1" cy="678.4" r="5.5"/><circle cx="59.8" cy="678.4" r="5.5"/><circle cx="67.4" cy="678.4" r="5.5"/><circle cx="75.1" cy="678.4" r="5.5"/><circle cx="82.8" cy="678.4" r="5.5"/><circle cx="90.5" cy="678.4" r="5.5"/><circle cx="98.2" cy="678.4" r="5.5"/><circle cx="105.8" cy="678.4" r="5.5"/><circle cx="113.5" cy="678.4" r="5.5"/><circle cx="121.2" cy="678.4" r="5.5"/><circle cx="128.9" cy="678.4" r="5.5"/><circle cx="136.6" cy="678.4" r="5.0"/><circle cx="144.2" cy="678.4" r="4.8"/><circle cx="151.9" cy="678.4" r="4.6"/><circle cx="159.6" cy="678.4" r="4.5"/><circle cx="167.3" cy="678.4" r="4.4"/><circle cx="175.0" cy="678.4" r="4.3"/><circle cx="182.6" cy="678.4" r="4.2"/><circle cx="190.3" cy="678.4" r="4.1"/><circle cx="198.0" cy="678.4" r="4.1"/><circle cx="205.7" cy="678.4" r="4.0"/><circle cx="213.4" cy="678.4" r="3.9"/><circle cx="221.0" cy="678.4" r="3.8"/><circle cx="228.7" cy="678.4" r="3.8"/><circle cx="236.4" cy="678.4" r="3.7"/><circle cx="244.1" cy="678.4" r="3.6"/><circle cx="251.8" cy="678.4" r="3.5"/><circle cx="259.4" cy="678.4" r="3.5"/><circle cx="267.1" cy="678.4" r="3.4"/><circle cx="274.8" cy="678.4" r="3.3"/><circle cx="282.5" cy="678.4" r="3.2"/><circle cx="290.2" cy="678.4" r="3.2"/><circle cx="297.8" cy="678.4" r="3.1"/><circle cx="305.5" cy="678.4" r="3.0"/><circle cx="313.2" cy="678.4" r="2.9"/><circle cx="320.9" cy="678.4" r="2.8"/><circle cx="328.6" cy="678.4" r="2.7"/><circle cx="336.2" cy="678.4" r="2.6"/><circle cx="343.9" cy="678.4" r="2.4"/><circle cx="351.6" cy="678.4" r="2.3"/><circle cx="359.3" cy="678.4" r="2.2"/><circle cx="367.0" cy="678.4" r="2.0"/><circle cx="374.6" cy="678.4" r="1.9"/><circle cx="382.3" cy="678.4" r="1.7"/><circle cx="390.0" cy="678.4" r="1.5"/><circle cx="397.7" cy="678.4" r="1.3"/><circle cx="405.4" cy="678.4" r="1.1"/><circle cx="413.0" cy="678.4" r="0.7"/><circle cx="1035.1" cy="678.4" r="0.5"/><circle cx="1042.8" cy="678.4" r="0.6"/><circle cx="1050.5" cy="678.4" r="0.7"/><circle cx="1058.2" cy="678.4" r="0.8"/><circle cx="1065.8" cy="678.4" r="0.9"/><circle cx="1073.5" cy="678.4" r="1.0"/><circle cx="1081.2" cy="678.4" r="1.1"/><circle cx="1088.9" cy="678.4" r="1.3"/><circle cx="1096.6" cy="678.4" r="1.4"/><circle cx="1104.2" cy="678.4" r="1.5"/><circle cx="1111.9" cy="678.4" r="1.5"/><circle cx="1119.6" cy="678.4" r="1.6"/><circle cx="1127.3" cy="678.4" r="1.7"/><circle cx="1135.0" cy="678.4" r="1.8"/><circle cx="1142.6" cy="678.4" r="1.9"/><circle cx="1150.3" cy="678.4" r="2.0"/><circle cx="1158.0" cy="678.4" r="2.1"/><circle cx="1165.7" cy="678.4" r="3.0"/><circle cx="1173.4" cy="678.4" r="3.0"/><circle cx="1181.0" cy="678.4" r="3.0"/><circle cx="1188.7" cy="678.4" r="3.0"/><circle cx="1196.4" cy="678.4" r="3.0"/><circle cx="1204.1" cy="678.4" r="3.0"/><circle cx="1211.8" cy="678.4" r="3.0"/></g></svg>
<div class="panel"></div>
<svg class="chart" width="1200" height="675" viewBox="0 0 1200 675"><line x1="107" x2="1072" y1="105.5" y2="105.5" stroke="#858585" stroke-width="1" stroke-dasharray="3.5 2.5"/><line x1="107" x2="1072" y1="237.5" y2="237.5" stroke="#858585" stroke-width="1" stroke-dasharray="3.5 2.5"/><line x1="107" x2="1072" y1="369.5" y2="369.5" stroke="#858585" stroke-width="1" stroke-dasharray="3.5 2.5"/><rect x="139.5" y="286" width="52.5" height="215" fill="#5e6df9"/><rect x="310" y="266" width="52" height="235" fill="#5e6df9"/><rect x="478" y="237.5" width="52" height="263.5" fill="#5e6df9"/><rect x="652" y="217" width="52" height="284" fill="#5e6df9"/><rect x="824.5" y="188" width="52.0" height="313" fill="#5e6df9"/><rect x="995" y="188" width="52" height="313" fill="#5e6df9"/><line x1="107" x2="1072" y1="501.3" y2="501.3" stroke="#ffffff" stroke-width="1.4"/><polyline fill="none" stroke="#ffffff" stroke-width="1.8" points="165.6,305.5 336,286 504,257 677.8,236 849.6,207.6 1021.3,207.6"/><circle cx="165.6" cy="305.5" r="4.75" fill="#ffffff"/><circle cx="336" cy="286" r="4.75" fill="#ffffff"/><circle cx="504" cy="257" r="4.75" fill="#ffffff"/><circle cx="677.8" cy="236" r="4.75" fill="#ffffff"/><circle cx="849.6" cy="207.6" r="4.75" fill="#ffffff"/><circle cx="1021.3" cy="207.6" r="4.75" fill="#ffffff"/><text x="165.75" y="278.3" font-size="13" fill="#fff" stroke="#fff" stroke-width="0.3" text-anchor="middle" letter-spacing="0.000" >0.8</text><text x="336.0" y="258.8" font-size="13" fill="#fff" stroke="#fff" stroke-width="0.3" text-anchor="middle" letter-spacing="0.000" >0.9</text><text x="504.0" y="229.3" font-size="13" fill="#fff" stroke="#fff" stroke-width="0.3" text-anchor="middle" letter-spacing="0.000" >1.0</text><text x="678.0" y="209.8" font-size="13" fill="#fff" stroke="#fff" stroke-width="0.3" text-anchor="middle" letter-spacing="-0.536" >1.1</text><text x="850.5" y="181.0" font-size="13" fill="#fff" stroke="#fff" stroke-width="0.3" text-anchor="middle" letter-spacing="0.000" >1.2</text><text x="1021.0" y="181.0" font-size="13" fill="#fff" stroke="#fff" stroke-width="0.3" text-anchor="middle" letter-spacing="0.000" >1.2</text><text x="99.8" y="110.3" font-size="13.4" fill="#fff" stroke="#fff" stroke-width="0.3" text-anchor="end" letter-spacing="0.000" >1.5</text><text x="99.8" y="242" font-size="13.4" fill="#fff" stroke="#fff" stroke-width="0.3" text-anchor="end" letter-spacing="0.000" >1.0</text><text x="99.8" y="374" font-size="13.4" fill="#fff" stroke="#fff" stroke-width="0.3" text-anchor="end" letter-spacing="0.000" >0.5</text><text x="99.8" y="506.3" font-size="13.4" fill="#fff" stroke="#fff" stroke-width="0.3" text-anchor="end" letter-spacing="0.000" >0.0</text><text x="1080.7" y="110.3" font-size="13.4" fill="#fff" stroke="#fff" stroke-width="0.3" text-anchor="start" letter-spacing="0.790" >30%</text><text x="1080.7" y="242" font-size="13.4" fill="#fff" stroke="#fff" stroke-width="0.3" text-anchor="start" letter-spacing="0.790" >20%</text><text x="1080.7" y="374" font-size="13.4" fill="#fff" stroke="#fff" stroke-width="0.3" text-anchor="start" letter-spacing="-0.410" >10%</text><text x="1080.7" y="506.3" font-size="13.4" fill="#fff" stroke="#fff" stroke-width="0.3" text-anchor="start" letter-spacing="0.633" >0%</text><text x="166.05" y="523.4" font-size="13.4" fill="#6b77ee" stroke="#6b77ee" stroke-width="0.12" text-anchor="middle" letter-spacing="1.063" >2020</text><text x="336.3" y="523.4" font-size="13.4" fill="#6b77ee" stroke="#6b77ee" stroke-width="0.12" text-anchor="middle" letter-spacing="1.063" >2021</text><text x="504.3" y="523.4" font-size="13.4" fill="#6b77ee" stroke="#6b77ee" stroke-width="0.12" text-anchor="middle" letter-spacing="1.063" >2022</text><text x="678.3" y="523.4" font-size="13.4" fill="#6b77ee" stroke="#6b77ee" stroke-width="0.12" text-anchor="middle" letter-spacing="1.063" >2023</text><text x="850.8" y="523.4" font-size="13.4" fill="#6b77ee" stroke="#6b77ee" stroke-width="0.12" text-anchor="middle" letter-spacing="1.063" >2024</text><text x="1021.3" y="523.4" font-size="13.4" fill="#6b77ee" stroke="#6b77ee" stroke-width="0.12" text-anchor="middle" letter-spacing="1.063" >2025</text><text x="0" y="0" font-size="13.4" fill="#fff" stroke="#fff" stroke-width="0.3" text-anchor="middle" letter-spacing="-0.144" transform="translate(48.8,284.3) rotate(-90)">Credit Card Debt, $ Trillion</text><text x="0" y="0" font-size="13.4" fill="#fff" stroke="#fff" stroke-width="0.3" text-anchor="middle" letter-spacing="-0.216" transform="translate(1152,282.2) rotate(-90)">Average Interest Rate, %</text><text x="0" y="0" font-size="29" fill="#fff" stroke="#fff" stroke-width="0.25" text-anchor="start" letter-spacing="-0.850" transform="translate(80,72.6) scale(0.93,1)">Credit Card Debt</text><rect x="725" y="52.7" width="27" height="17" fill="#5e6df9"/><rect x="935" y="52.7" width="27.3" height="17" fill="#fff"/><text x="758.7" y="65.8" font-size="13.4" fill="#fff" stroke="#fff" stroke-width="0.3" text-anchor="start" letter-spacing="-0.200" >Credit Card Debt, $ Trillion</text><text x="968.7" y="65.8" font-size="13.4" fill="#fff" stroke="#fff" stroke-width="0.3" text-anchor="start" letter-spacing="-0.281" >Average Interest Rate, %</text><text x="23" y="586.0" font-size="14.2" fill="#5b61ee" stroke="#5b61ee" stroke-width="0.2" text-anchor="start" letter-spacing="0.642" >*Q2 2025</text><text x="23" y="603.1" font-size="14.2" fill="#5b61ee" stroke="#5b61ee" stroke-width="0.2" text-anchor="start" letter-spacing="0.026" >Source: Federal Reserve Bank of New York, The Federal Reserve</text><text x="52.6" y="645.7" font-size="14.2" fill="#fff" stroke="#fff" stroke-width="0.3" text-anchor="start" letter-spacing="0.174" >Learn more about Codex at www.codex.xyz</text><path d="M23.8 641.2H33 M29.3 637.4L33.2 641.2L29.3 645" fill="none" stroke="#fff" stroke-width="1.3"/><g fill="#fff"><path d="M1076 628.8 A13 13 0 1 1 1076 651.8 Z"/><rect x="1072" y="631.6" width="4" height="3.4"/><rect x="1068.9" y="635" width="3.1" height="10.4"/><rect x="1072" y="645.4" width="4" height="3.4"/></g><rect x="1075.9" y="632.2" width="6.1" height="16.2" fill="#000"/><rect x="1071.9" y="635" width="4.1" height="10.4" fill="#000"/><rect x="1078.4" y="632.2" width="0.7" height="16.2" fill="#666"/><rect x="1085.3" y="628" width="0.5" height="24.6" fill="#ccc"/><rect x="1088.4" y="629.2" width="0.5" height="22.2" fill="#ddd"/><text x="1104.2" y="647.8" font-size="21.4" fill="#fff" stroke="#fff" stroke-width="0.45" text-anchor="start" letter-spacing="-0.276" >CODEX</text></svg>
</body></html>
